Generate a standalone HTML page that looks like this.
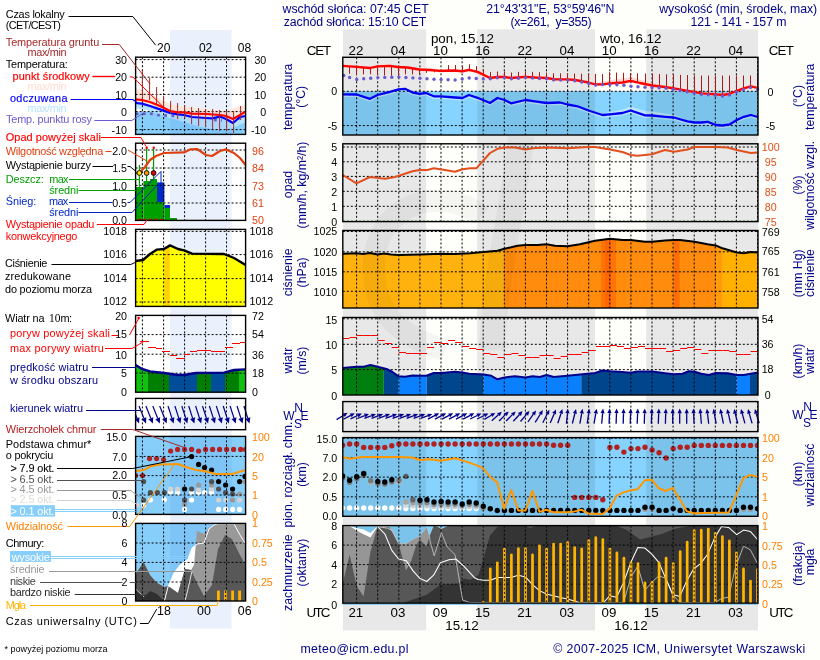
<!DOCTYPE html>
<html><head><meta charset="utf-8"><title>Meteogram</title><style>html,body{margin:0;padding:0;background:#fff}svg{display:block}</style></head><body>
<svg width="820" height="660" viewBox="0 0 820 660" font-family="'Liberation Sans', Arial, sans-serif">
<rect width="820" height="660" fill="#fff"/>
<rect x="280" y="0" width="540" height="660" fill="#fefefb"/>
<rect x="170.0" y="30.0" width="61.6" height="598.6" fill="#eaf1fc" />
<rect x="343.0" y="29.3" width="83.2" height="601.1" fill="#e8e8e8" />
<rect x="477.2" y="29.3" width="117.8" height="601.1" fill="#e8e8e8" />
<rect x="646.2" y="29.3" width="111.8" height="601.1" fill="#e8e8e8" />
<rect x="342.8" y="91.3" width="415.2" height="43.7" fill="#87d3ff" />
<polygon points="342.8,93.5 356.5,93.7 370.0,98.0 377.5,94.2 390.0,91.0 398.5,88.5 405.0,88.0 412.5,91.7 419.5,93.0 426.0,92.2 433.8,95.5 441.0,95.5 455.0,96.7 462.5,97.2 469.0,94.2 477.5,97.0 490.0,102.2 497.5,97.2 504.5,99.2 511.0,102.5 525.5,99.2 535.0,100.5 546.5,102.2 560.0,101.7 567.5,103.7 577.5,105.5 588.5,109.7 602.5,113.5 610.0,112.0 622.5,109.6 630.7,106.6 645.0,111.1 652.0,111.5 665.0,113.5 674.0,115.0 687.5,120.2 694.5,121.7 701.3,121.7 707.5,121.0 715.8,124.2 722.5,124.7 730.0,123.5 736.8,119.2 743.8,116.0 750.8,114.2 758.0,116.2 758.0,119.6 750.8,117.6 743.8,119.4 736.8,122.6 730.0,126.9 722.5,128.1 715.8,127.6 707.5,124.4 701.3,125.1 694.5,125.1 687.5,123.9 674.0,120.1 665.0,119.4 652.0,118.1 645.0,117.9 630.7,113.1 622.5,115.6 610.0,116.9 602.5,117.6 588.5,113.1 577.5,108.9 567.5,107.1 560.0,105.1 546.5,105.6 535.0,103.9 525.5,102.6 511.0,105.9 504.5,102.6 497.5,100.6 490.0,105.6 477.5,100.4 469.0,97.6 462.5,100.6 455.0,100.1 441.0,98.9 433.8,98.9 426.0,95.6 419.5,96.4 412.5,95.1 405.0,91.4 398.5,91.9 390.0,94.4 377.5,97.6 370.0,101.4 356.5,97.1 342.8,96.9" fill="#b9e6ff" />
<polygon points="342.8,64.2 356.5,65.2 370.0,66.4 377.5,64.7 390.0,64.2 397.5,65.4 407.5,65.9 419.5,67.9 430.0,68.4 440.0,69.2 455.0,68.9 462.5,69.7 469.0,68.2 477.5,70.3 490.0,76.4 497.5,75.4 504.5,75.4 511.0,76.4 525.5,75.2 535.0,75.9 546.5,76.4 555.0,77.7 567.5,77.7 575.0,78.4 588.5,80.9 595.0,82.7 602.5,81.9 610.0,80.2 622.5,78.6 630.7,76.8 640.0,79.4 652.0,83.0 665.0,85.4 674.0,86.7 687.5,89.2 694.5,90.4 701.3,91.7 715.8,92.7 722.5,93.4 730.0,92.2 736.8,89.2 743.8,86.7 750.8,84.7 758.0,86.4 758.0,89.6 750.8,87.9 743.8,89.9 736.8,92.4 730.0,95.4 722.5,96.6 715.8,95.9 701.3,94.9 694.5,93.6 687.5,92.4 674.0,89.9 665.0,88.6 652.0,87.1 640.0,84.6 630.7,82.4 622.5,84.1 610.0,84.9 602.5,85.9 595.0,85.9 588.5,84.1 575.0,81.6 567.5,80.9 555.0,80.9 546.5,79.6 535.0,79.1 525.5,78.4 511.0,79.6 504.5,78.6 497.5,78.6 490.0,79.6 477.5,73.5 469.0,71.4 462.5,72.9 455.0,72.1 440.0,72.4 430.0,71.6 419.5,71.1 407.5,69.1 397.5,68.6 390.0,67.4 377.5,67.9 370.0,69.6 356.5,68.4 342.8,67.4" fill="#ffd9d3" />
<rect x="343.0" y="91.3" width="83.2" height="43.7" fill="#000" opacity="0.075"/>
<rect x="477.2" y="91.3" width="117.8" height="43.7" fill="#000" opacity="0.075"/>
<rect x="646.2" y="91.3" width="111.8" height="43.7" fill="#000" opacity="0.075"/>
<line x1="356.6" y1="57.3" x2="356.6" y2="135.0" stroke="#000" stroke-width="1" stroke-dasharray="2,2"/>
<line x1="377.7" y1="57.3" x2="377.7" y2="135.0" stroke="#000" stroke-width="1" stroke-dasharray="2,2"/>
<line x1="398.8" y1="57.3" x2="398.8" y2="135.0" stroke="#000" stroke-width="1" stroke-dasharray="2,2"/>
<line x1="419.9" y1="57.3" x2="419.9" y2="135.0" stroke="#000" stroke-width="1" stroke-dasharray="2,2"/>
<line x1="441.0" y1="57.3" x2="441.0" y2="135.0" stroke="#000" stroke-width="1" stroke-dasharray="2,2"/>
<line x1="462.1" y1="57.3" x2="462.1" y2="135.0" stroke="#000" stroke-width="1" stroke-dasharray="2,2"/>
<line x1="483.2" y1="57.3" x2="483.2" y2="135.0" stroke="#000" stroke-width="1" stroke-dasharray="2,2"/>
<line x1="504.3" y1="57.3" x2="504.3" y2="135.0" stroke="#000" stroke-width="1" stroke-dasharray="2,2"/>
<line x1="525.4" y1="57.3" x2="525.4" y2="135.0" stroke="#000" stroke-width="1" stroke-dasharray="2,2"/>
<line x1="546.5" y1="57.3" x2="546.5" y2="135.0" stroke="#000" stroke-width="1" stroke-dasharray="2,2"/>
<line x1="567.6" y1="57.3" x2="567.6" y2="135.0" stroke="#000" stroke-width="1" stroke-dasharray="2,2"/>
<line x1="588.7" y1="57.3" x2="588.7" y2="135.0" stroke="#000" stroke-width="1" stroke-dasharray="2,2"/>
<line x1="609.8" y1="57.3" x2="609.8" y2="135.0" stroke="#000" stroke-width="1" stroke-dasharray="2,2"/>
<line x1="630.9" y1="57.3" x2="630.9" y2="135.0" stroke="#000" stroke-width="1" stroke-dasharray="2,2"/>
<line x1="652.0" y1="57.3" x2="652.0" y2="135.0" stroke="#000" stroke-width="1" stroke-dasharray="2,2"/>
<line x1="673.1" y1="57.3" x2="673.1" y2="135.0" stroke="#000" stroke-width="1" stroke-dasharray="2,2"/>
<line x1="694.2" y1="57.3" x2="694.2" y2="135.0" stroke="#000" stroke-width="1" stroke-dasharray="2,2"/>
<line x1="715.3" y1="57.3" x2="715.3" y2="135.0" stroke="#000" stroke-width="1" stroke-dasharray="2,2"/>
<line x1="736.4" y1="57.3" x2="736.4" y2="135.0" stroke="#000" stroke-width="1" stroke-dasharray="2,2"/>
<line x1="757.5" y1="57.3" x2="757.5" y2="135.0" stroke="#000" stroke-width="1" stroke-dasharray="2,2"/>
<line x1="342.8" y1="91.3" x2="758.0" y2="91.3" stroke="#000" stroke-width="1" stroke-dasharray="2,2"/>
<line x1="342.8" y1="125.6" x2="758.0" y2="125.6" stroke="#000" stroke-width="1" stroke-dasharray="2,2"/>
<line x1="349.5" y1="66.3" x2="349.5" y2="73.8" stroke="#b01818" stroke-width="1"/>
<line x1="356.5" y1="66.8" x2="356.5" y2="74.8" stroke="#b01818" stroke-width="1"/>
<line x1="363.5" y1="67.4" x2="363.5" y2="74.4" stroke="#b01818" stroke-width="1"/>
<line x1="370.5" y1="67.8" x2="370.5" y2="74.3" stroke="#b01818" stroke-width="1"/>
<line x1="377.5" y1="66.3" x2="377.5" y2="75.3" stroke="#b01818" stroke-width="1"/>
<line x1="384.5" y1="66.0" x2="384.5" y2="75.5" stroke="#b01818" stroke-width="1"/>
<line x1="391.5" y1="66.1" x2="391.5" y2="76.1" stroke="#b01818" stroke-width="1"/>
<line x1="398.5" y1="67.1" x2="398.5" y2="76.1" stroke="#b01818" stroke-width="1"/>
<line x1="405.5" y1="67.4" x2="405.5" y2="74.4" stroke="#b01818" stroke-width="1"/>
<line x1="412.5" y1="68.4" x2="412.5" y2="74.4" stroke="#b01818" stroke-width="1"/>
<line x1="419.5" y1="69.5" x2="419.5" y2="74.0" stroke="#b01818" stroke-width="1"/>
<line x1="426.5" y1="69.9" x2="426.5" y2="72.9" stroke="#b01818" stroke-width="1"/>
<line x1="434.5" y1="70.3" x2="434.5" y2="72.3" stroke="#b01818" stroke-width="1"/>
<line x1="448.5" y1="65.1" x2="448.5" y2="70.6" stroke="#b01818" stroke-width="1"/>
<line x1="455.5" y1="65.0" x2="455.5" y2="70.5" stroke="#b01818" stroke-width="1"/>
<line x1="462.5" y1="65.8" x2="462.5" y2="71.3" stroke="#b01818" stroke-width="1"/>
<line x1="469.5" y1="64.3" x2="469.5" y2="69.8" stroke="#b01818" stroke-width="1"/>
<line x1="476.5" y1="66.1" x2="476.5" y2="71.6" stroke="#b01818" stroke-width="1"/>
<line x1="483.5" y1="69.2" x2="483.5" y2="74.7" stroke="#b01818" stroke-width="1"/>
<line x1="490.5" y1="72.1" x2="490.5" y2="78.0" stroke="#b01818" stroke-width="1"/>
<line x1="497.5" y1="71.5" x2="497.5" y2="77.0" stroke="#b01818" stroke-width="1"/>
<line x1="504.5" y1="71.5" x2="504.5" y2="77.0" stroke="#b01818" stroke-width="1"/>
<line x1="511.5" y1="72.5" x2="511.5" y2="78.0" stroke="#b01818" stroke-width="1"/>
<line x1="518.5" y1="71.9" x2="518.5" y2="77.4" stroke="#b01818" stroke-width="1"/>
<line x1="525.5" y1="71.3" x2="525.5" y2="76.8" stroke="#b01818" stroke-width="1"/>
<line x1="532.5" y1="71.8" x2="532.5" y2="77.3" stroke="#b01818" stroke-width="1"/>
<line x1="539.5" y1="72.2" x2="539.5" y2="77.7" stroke="#b01818" stroke-width="1"/>
<line x1="546.5" y1="72.5" x2="546.5" y2="78.0" stroke="#b01818" stroke-width="1"/>
<line x1="553.5" y1="73.2" x2="553.5" y2="79.1" stroke="#b01818" stroke-width="1"/>
<line x1="560.5" y1="73.3" x2="560.5" y2="79.3" stroke="#b01818" stroke-width="1"/>
<line x1="567.5" y1="73.4" x2="567.5" y2="79.3" stroke="#b01818" stroke-width="1"/>
<line x1="574.5" y1="73.6" x2="574.5" y2="80.0" stroke="#b01818" stroke-width="1"/>
<line x1="581.5" y1="73.7" x2="581.5" y2="81.2" stroke="#b01818" stroke-width="1"/>
<line x1="588.5" y1="73.8" x2="588.5" y2="82.6" stroke="#b01818" stroke-width="1"/>
<line x1="595.5" y1="73.9" x2="595.5" y2="84.3" stroke="#b01818" stroke-width="1"/>
<line x1="602.5" y1="74.0" x2="602.5" y2="84.3" stroke="#b01818" stroke-width="1"/>
<line x1="609.5" y1="72.3" x2="609.5" y2="83.3" stroke="#b01818" stroke-width="1"/>
<line x1="616.5" y1="72.5" x2="616.5" y2="82.9" stroke="#b01818" stroke-width="1"/>
<line x1="623.5" y1="72.8" x2="623.5" y2="82.2" stroke="#b01818" stroke-width="1"/>
<line x1="630.5" y1="73.0" x2="630.5" y2="80.9" stroke="#b01818" stroke-width="1"/>
<line x1="637.5" y1="73.3" x2="637.5" y2="82.5" stroke="#b01818" stroke-width="1"/>
<line x1="645.5" y1="73.5" x2="645.5" y2="84.0" stroke="#b01818" stroke-width="1"/>
<line x1="652.5" y1="73.8" x2="652.5" y2="85.5" stroke="#b01818" stroke-width="1"/>
<line x1="659.5" y1="74.0" x2="659.5" y2="86.3" stroke="#b01818" stroke-width="1"/>
<line x1="666.5" y1="74.3" x2="666.5" y2="87.2" stroke="#b01818" stroke-width="1"/>
<line x1="673.5" y1="74.5" x2="673.5" y2="88.2" stroke="#b01818" stroke-width="1"/>
<line x1="680.5" y1="74.8" x2="680.5" y2="89.4" stroke="#b01818" stroke-width="1"/>
<line x1="687.5" y1="75.0" x2="687.5" y2="90.7" stroke="#b01818" stroke-width="1"/>
<line x1="694.5" y1="75.5" x2="694.5" y2="92.0" stroke="#b01818" stroke-width="1"/>
<line x1="701.5" y1="75.5" x2="701.5" y2="93.3" stroke="#b01818" stroke-width="1"/>
<line x1="708.5" y1="75.5" x2="708.5" y2="93.8" stroke="#b01818" stroke-width="1"/>
<line x1="715.5" y1="75.5" x2="715.5" y2="94.3" stroke="#b01818" stroke-width="1"/>
<line x1="722.5" y1="75.5" x2="722.5" y2="95.0" stroke="#b01818" stroke-width="1"/>
<line x1="729.5" y1="75.5" x2="729.5" y2="93.9" stroke="#b01818" stroke-width="1"/>
<line x1="736.5" y1="75.5" x2="736.5" y2="91.0" stroke="#b01818" stroke-width="1"/>
<line x1="743.5" y1="75.5" x2="743.5" y2="88.4" stroke="#b01818" stroke-width="1"/>
<line x1="750.5" y1="75.5" x2="750.5" y2="86.4" stroke="#b01818" stroke-width="1"/>
<line x1="757.5" y1="75.5" x2="757.5" y2="87.9" stroke="#b01818" stroke-width="1"/>
<polyline points="342.8,94.3 356.5,94.5 370.0,98.8 377.5,95.0 390.0,91.8 398.5,89.3 405.0,88.8 412.5,92.5 419.5,93.8 426.0,93.0 433.8,96.3 441.0,96.3 455.0,97.5 462.5,98.0 469.0,95.0 477.5,97.8 490.0,103.0 497.5,98.0 504.5,100.0 511.0,103.3 525.5,100.0 535.0,101.3 546.5,103.0 560.0,102.5 567.5,104.5 577.5,106.3 588.5,110.5 602.5,115.0 610.0,114.3 622.5,113.0 630.7,110.5 645.0,115.3 652.0,115.5 665.0,116.8 674.0,117.5 687.5,121.3 694.5,122.5 701.3,122.5 707.5,121.8 715.8,125.0 722.5,125.5 730.0,124.3 736.8,120.0 743.8,116.8 750.8,115.0 758.0,117.0" fill="none" stroke="#0000f0" stroke-width="2.3" stroke-linejoin="round"/>
<polyline points="342.8,65.8 356.5,66.8 370.0,68.0 377.5,66.3 390.0,65.8 397.5,67.0 407.5,67.5 419.5,69.5 430.0,70.0 440.0,70.8 455.0,70.5 462.5,71.3 469.0,69.8 477.5,71.9 490.0,78.0 497.5,77.0 504.5,77.0 511.0,78.0 525.5,76.8 535.0,77.5 546.5,78.0 555.0,79.3 567.5,79.3 575.0,80.0 588.5,82.5 595.0,84.3 602.5,84.3 610.0,83.3 622.5,82.5 630.7,80.8 640.0,83.0 652.0,85.5 665.0,87.0 674.0,88.3 687.5,90.8 694.5,92.0 701.3,93.3 715.8,94.3 722.5,95.0 730.0,93.8 736.8,90.8 743.8,88.3 750.8,86.3 758.0,88.0" fill="none" stroke="#ff0000" stroke-width="2.3" stroke-linejoin="round"/>
<circle cx="343.8" cy="75.5" r="1.7" fill="#6a5acd"/>
<circle cx="349.6" cy="77.5" r="1.7" fill="#6a5acd"/>
<circle cx="356.7" cy="79.5" r="1.7" fill="#6a5acd"/>
<circle cx="363.7" cy="78.8" r="1.7" fill="#6a5acd"/>
<circle cx="370.7" cy="78.2" r="1.7" fill="#6a5acd"/>
<circle cx="377.8" cy="77.6" r="1.7" fill="#6a5acd"/>
<circle cx="384.8" cy="77.4" r="1.7" fill="#6a5acd"/>
<circle cx="391.8" cy="77.2" r="1.7" fill="#6a5acd"/>
<circle cx="398.9" cy="77.1" r="1.7" fill="#6a5acd"/>
<circle cx="405.9" cy="77.5" r="1.7" fill="#6a5acd"/>
<circle cx="412.9" cy="77.9" r="1.7" fill="#6a5acd"/>
<circle cx="420.0" cy="78.3" r="1.7" fill="#6a5acd"/>
<circle cx="427.0" cy="78.8" r="1.7" fill="#6a5acd"/>
<circle cx="434.0" cy="79.2" r="1.7" fill="#6a5acd"/>
<circle cx="441.1" cy="79.6" r="1.7" fill="#6a5acd"/>
<circle cx="448.1" cy="79.8" r="1.7" fill="#6a5acd"/>
<circle cx="455.1" cy="80.0" r="1.7" fill="#6a5acd"/>
<circle cx="462.2" cy="79.0" r="1.7" fill="#6a5acd"/>
<circle cx="469.2" cy="78.0" r="1.7" fill="#6a5acd"/>
<circle cx="476.2" cy="78.5" r="1.7" fill="#6a5acd"/>
<circle cx="483.3" cy="78.9" r="1.7" fill="#6a5acd"/>
<circle cx="490.3" cy="78.8" r="1.7" fill="#6a5acd"/>
<circle cx="497.3" cy="77.8" r="1.7" fill="#6a5acd"/>
<circle cx="504.4" cy="77.8" r="1.7" fill="#6a5acd"/>
<circle cx="511.4" cy="78.8" r="1.7" fill="#6a5acd"/>
<circle cx="518.4" cy="78.2" r="1.7" fill="#6a5acd"/>
<circle cx="525.5" cy="77.6" r="1.7" fill="#6a5acd"/>
<circle cx="532.5" cy="78.1" r="1.7" fill="#6a5acd"/>
<circle cx="539.5" cy="78.5" r="1.7" fill="#6a5acd"/>
<circle cx="546.6" cy="78.8" r="1.7" fill="#6a5acd"/>
<circle cx="553.6" cy="79.9" r="1.7" fill="#6a5acd"/>
<circle cx="560.6" cy="80.1" r="1.7" fill="#6a5acd"/>
<circle cx="567.7" cy="80.1" r="1.7" fill="#6a5acd"/>
<circle cx="574.7" cy="80.8" r="1.7" fill="#6a5acd"/>
<circle cx="581.7" cy="82.0" r="1.7" fill="#6a5acd"/>
<circle cx="588.8" cy="83.4" r="1.7" fill="#6a5acd"/>
<circle cx="595.8" cy="85.1" r="1.7" fill="#6a5acd"/>
<circle cx="602.8" cy="84.6" r="1.7" fill="#6a5acd"/>
<circle cx="609.9" cy="84.6" r="1.7" fill="#6a5acd"/>
<circle cx="616.9" cy="84.8" r="1.7" fill="#6a5acd"/>
<circle cx="623.9" cy="85.3" r="1.7" fill="#6a5acd"/>
<circle cx="631.0" cy="86.3" r="1.7" fill="#6a5acd"/>
<circle cx="638.0" cy="86.8" r="1.7" fill="#6a5acd"/>
<circle cx="645.0" cy="87.3" r="1.7" fill="#6a5acd"/>
<circle cx="652.1" cy="87.6" r="1.7" fill="#6a5acd"/>
<circle cx="659.1" cy="87.8" r="1.7" fill="#6a5acd"/>
<circle cx="666.1" cy="88.2" r="1.7" fill="#6a5acd"/>
<circle cx="673.2" cy="89.2" r="1.7" fill="#6a5acd"/>
<circle cx="680.2" cy="90.4" r="1.7" fill="#6a5acd"/>
<circle cx="687.2" cy="91.7" r="1.7" fill="#6a5acd"/>
<circle cx="694.2" cy="93.0" r="1.7" fill="#6a5acd"/>
<circle cx="701.3" cy="94.3" r="1.7" fill="#6a5acd"/>
<circle cx="708.3" cy="94.8" r="1.7" fill="#6a5acd"/>
<circle cx="715.3" cy="95.3" r="1.7" fill="#6a5acd"/>
<circle cx="722.4" cy="96.0" r="1.7" fill="#6a5acd"/>
<circle cx="729.4" cy="94.9" r="1.7" fill="#6a5acd"/>
<circle cx="736.4" cy="92.0" r="1.7" fill="#6a5acd"/>
<circle cx="743.5" cy="89.4" r="1.7" fill="#6a5acd"/>
<circle cx="750.5" cy="87.4" r="1.7" fill="#6a5acd"/>
<circle cx="757.5" cy="88.9" r="1.7" fill="#6a5acd"/>
<rect x="342.8" y="57.3" width="415.2" height="77.7" fill="none" stroke="#000" stroke-width="1.4"/>
<line x1="356.6" y1="143.8" x2="356.6" y2="221.6" stroke="#000" stroke-width="1" stroke-dasharray="2,2"/>
<line x1="377.7" y1="143.8" x2="377.7" y2="221.6" stroke="#000" stroke-width="1" stroke-dasharray="2,2"/>
<line x1="398.8" y1="143.8" x2="398.8" y2="221.6" stroke="#000" stroke-width="1" stroke-dasharray="2,2"/>
<line x1="419.9" y1="143.8" x2="419.9" y2="221.6" stroke="#000" stroke-width="1" stroke-dasharray="2,2"/>
<line x1="441.0" y1="143.8" x2="441.0" y2="221.6" stroke="#000" stroke-width="1" stroke-dasharray="2,2"/>
<line x1="462.1" y1="143.8" x2="462.1" y2="221.6" stroke="#000" stroke-width="1" stroke-dasharray="2,2"/>
<line x1="483.2" y1="143.8" x2="483.2" y2="221.6" stroke="#000" stroke-width="1" stroke-dasharray="2,2"/>
<line x1="504.3" y1="143.8" x2="504.3" y2="221.6" stroke="#000" stroke-width="1" stroke-dasharray="2,2"/>
<line x1="525.4" y1="143.8" x2="525.4" y2="221.6" stroke="#000" stroke-width="1" stroke-dasharray="2,2"/>
<line x1="546.5" y1="143.8" x2="546.5" y2="221.6" stroke="#000" stroke-width="1" stroke-dasharray="2,2"/>
<line x1="567.6" y1="143.8" x2="567.6" y2="221.6" stroke="#000" stroke-width="1" stroke-dasharray="2,2"/>
<line x1="588.7" y1="143.8" x2="588.7" y2="221.6" stroke="#000" stroke-width="1" stroke-dasharray="2,2"/>
<line x1="609.8" y1="143.8" x2="609.8" y2="221.6" stroke="#000" stroke-width="1" stroke-dasharray="2,2"/>
<line x1="630.9" y1="143.8" x2="630.9" y2="221.6" stroke="#000" stroke-width="1" stroke-dasharray="2,2"/>
<line x1="652.0" y1="143.8" x2="652.0" y2="221.6" stroke="#000" stroke-width="1" stroke-dasharray="2,2"/>
<line x1="673.1" y1="143.8" x2="673.1" y2="221.6" stroke="#000" stroke-width="1" stroke-dasharray="2,2"/>
<line x1="694.2" y1="143.8" x2="694.2" y2="221.6" stroke="#000" stroke-width="1" stroke-dasharray="2,2"/>
<line x1="715.3" y1="143.8" x2="715.3" y2="221.6" stroke="#000" stroke-width="1" stroke-dasharray="2,2"/>
<line x1="736.4" y1="143.8" x2="736.4" y2="221.6" stroke="#000" stroke-width="1" stroke-dasharray="2,2"/>
<line x1="757.5" y1="143.8" x2="757.5" y2="221.6" stroke="#000" stroke-width="1" stroke-dasharray="2,2"/>
<line x1="342.8" y1="147.0" x2="758.0" y2="147.0" stroke="#000" stroke-width="1" stroke-dasharray="2,2"/>
<line x1="342.8" y1="161.8" x2="758.0" y2="161.8" stroke="#000" stroke-width="1" stroke-dasharray="2,2"/>
<line x1="342.8" y1="176.4" x2="758.0" y2="176.4" stroke="#000" stroke-width="1" stroke-dasharray="2,2"/>
<line x1="342.8" y1="191.3" x2="758.0" y2="191.3" stroke="#000" stroke-width="1" stroke-dasharray="2,2"/>
<line x1="342.8" y1="206.3" x2="758.0" y2="206.3" stroke="#000" stroke-width="1" stroke-dasharray="2,2"/>
<line x1="342.8" y1="221.1" x2="758.0" y2="221.1" stroke="#0a8a0a" stroke-width="1" stroke-dasharray="2,2"/>
<polyline points="342.8,175.0 356.5,183.3 370.0,177.0 385.0,178.8 395.0,177.0 412.5,171.3 419.5,170.0 427.5,170.0 433.8,168.3 445.0,170.0 455.0,171.8 462.5,169.3 470.0,168.3 476.3,168.3 483.8,160.0 490.0,153.0 497.5,148.8 504.5,147.5 515.0,147.5 525.5,149.5 532.5,148.3 546.5,147.5 567.5,148.3 588.5,147.0 595.0,147.0 610.0,149.5 622.5,152.0 630.7,155.0 637.5,155.8 652.0,154.3 665.0,150.0 674.0,151.8 687.5,149.5 694.5,147.0 715.8,147.0 727.5,147.5 736.8,150.0 750.8,153.0 758.0,152.5" fill="none" stroke="#e2501e" stroke-width="2" stroke-linejoin="round"/>
<rect x="342.8" y="143.8" width="415.2" height="77.8" fill="none" stroke="#000" stroke-width="1.4"/>
<defs><linearGradient id="go" x1="0" x2="1" y1="0" y2="0"><stop offset="0" stop-color="#ffab10"/><stop offset="1" stop-color="#ffb80c"/></linearGradient></defs>
<polygon points="342.8,253.8 356.5,253.2 363.0,254.0 370.0,253.0 377.5,254.6 384.0,253.4 391.0,254.6 398.5,255.0 420.0,254.4 441.0,253.8 455.0,254.0 470.0,253.3 497.5,250.8 503.8,249.0 503.8,308.0 342.8,308.0" fill="#ffb20e" />
<polygon points="503.8,249.0 504.5,248.8 517.5,245.8 525.5,245.0 537.5,245.0 546.5,244.3 555.0,245.8 567.5,246.3 580.0,244.3 595.0,240.8 610.0,238.8 622.5,240.0 630.7,240.0 645.0,241.8 652.0,241.8 665.0,240.5 674.0,240.0 680.0,240.0 694.5,241.8 707.5,244.3 715.8,245.5 722.0,248.1 722.0,308.0 503.8,308.0" fill="#ff8c0c" />
<polygon points="722.0,248.1 722.5,248.3 736.8,252.5 743.8,253.3 750.8,252.0 758.0,252.5 758.0,308.0 722.0,308.0" fill="#ffb000" />
<polygon points="601.0,240.0 610.0,238.8 616.0,239.4 616.0,308.0 601.0,308.0" fill="#ff7406" />
<polygon points="605.0,239.5 610.0,238.8 611.0,238.9 611.0,308.0 605.0,308.0" fill="#ff6602" />
<polygon points="673.8,240.0 674.0,240.0 679.6,240.0 679.6,308.0 673.8,308.0" fill="#ff6e04" />
<polygon points="716.0,245.6 722.0,248.1 722.0,308.0 716.0,308.0" fill="#ff9a0a" />
<line x1="356.6" y1="230.5" x2="356.6" y2="308.0" stroke="#000" stroke-width="1" stroke-dasharray="2,2"/>
<line x1="377.7" y1="230.5" x2="377.7" y2="308.0" stroke="#000" stroke-width="1" stroke-dasharray="2,2"/>
<line x1="398.8" y1="230.5" x2="398.8" y2="308.0" stroke="#000" stroke-width="1" stroke-dasharray="2,2"/>
<line x1="419.9" y1="230.5" x2="419.9" y2="308.0" stroke="#000" stroke-width="1" stroke-dasharray="2,2"/>
<line x1="441.0" y1="230.5" x2="441.0" y2="308.0" stroke="#000" stroke-width="1" stroke-dasharray="2,2"/>
<line x1="462.1" y1="230.5" x2="462.1" y2="308.0" stroke="#000" stroke-width="1" stroke-dasharray="2,2"/>
<line x1="483.2" y1="230.5" x2="483.2" y2="308.0" stroke="#000" stroke-width="1" stroke-dasharray="2,2"/>
<line x1="504.3" y1="230.5" x2="504.3" y2="308.0" stroke="#000" stroke-width="1" stroke-dasharray="2,2"/>
<line x1="525.4" y1="230.5" x2="525.4" y2="308.0" stroke="#000" stroke-width="1" stroke-dasharray="2,2"/>
<line x1="546.5" y1="230.5" x2="546.5" y2="308.0" stroke="#000" stroke-width="1" stroke-dasharray="2,2"/>
<line x1="567.6" y1="230.5" x2="567.6" y2="308.0" stroke="#000" stroke-width="1" stroke-dasharray="2,2"/>
<line x1="588.7" y1="230.5" x2="588.7" y2="308.0" stroke="#000" stroke-width="1" stroke-dasharray="2,2"/>
<line x1="609.8" y1="230.5" x2="609.8" y2="308.0" stroke="#000" stroke-width="1" stroke-dasharray="2,2"/>
<line x1="630.9" y1="230.5" x2="630.9" y2="308.0" stroke="#000" stroke-width="1" stroke-dasharray="2,2"/>
<line x1="652.0" y1="230.5" x2="652.0" y2="308.0" stroke="#000" stroke-width="1" stroke-dasharray="2,2"/>
<line x1="673.1" y1="230.5" x2="673.1" y2="308.0" stroke="#000" stroke-width="1" stroke-dasharray="2,2"/>
<line x1="694.2" y1="230.5" x2="694.2" y2="308.0" stroke="#000" stroke-width="1" stroke-dasharray="2,2"/>
<line x1="715.3" y1="230.5" x2="715.3" y2="308.0" stroke="#000" stroke-width="1" stroke-dasharray="2,2"/>
<line x1="736.4" y1="230.5" x2="736.4" y2="308.0" stroke="#000" stroke-width="1" stroke-dasharray="2,2"/>
<line x1="757.5" y1="230.5" x2="757.5" y2="308.0" stroke="#000" stroke-width="1" stroke-dasharray="2,2"/>
<line x1="342.8" y1="231.5" x2="758.0" y2="231.5" stroke="#000" stroke-width="1" stroke-dasharray="2,2"/>
<line x1="342.8" y1="251.8" x2="758.0" y2="251.8" stroke="#000" stroke-width="1" stroke-dasharray="2,2"/>
<line x1="342.8" y1="271.8" x2="758.0" y2="271.8" stroke="#000" stroke-width="1" stroke-dasharray="2,2"/>
<line x1="342.8" y1="291.3" x2="758.0" y2="291.3" stroke="#000" stroke-width="1" stroke-dasharray="2,2"/>
<polyline points="342.8,253.8 356.5,253.2 363.0,254.0 370.0,253.0 377.5,254.6 384.0,253.4 391.0,254.6 398.5,255.0 420.0,254.4 441.0,253.8 455.0,254.0 470.0,253.3 497.5,250.8 504.5,248.8 517.5,245.8 525.5,245.0 537.5,245.0 546.5,244.3 555.0,245.8 567.5,246.3 580.0,244.3 595.0,240.8 610.0,238.8 622.5,240.0 630.7,240.0 645.0,241.8 652.0,241.8 665.0,240.5 674.0,240.0 680.0,240.0 694.5,241.8 707.5,244.3 715.8,245.5 722.5,248.3 736.8,252.5 743.8,253.3 750.8,252.0 758.0,252.5" fill="none" stroke="#000" stroke-width="2" stroke-linejoin="round"/>
<rect x="342.8" y="230.5" width="415.2" height="77.5" fill="none" stroke="#000" stroke-width="1.4"/>
<polygon points="342.8,368.0 356.5,366.8 363.8,366.8 370.5,365.0 377.5,366.8 383.8,368.4 383.8,395.0 342.8,395.0" fill="#007f10" />
<polygon points="383.8,368.4 387.5,369.3 392.5,372.0 398.5,376.3 398.5,395.0 383.8,395.0" fill="#00468c" />
<polygon points="398.5,376.3 405.0,376.8 412.5,375.5 419.5,375.8 426.3,375.8 426.8,375.6 426.8,395.0 398.5,395.0" fill="#0a80ff" />
<polygon points="426.8,375.6 433.8,373.0 441.0,373.0 455.0,371.8 462.5,372.5 469.3,373.8 483.4,374.5 483.4,395.0 426.8,395.0" fill="#00468c" />
<polygon points="483.4,374.5 483.8,374.5 491.3,375.8 497.5,379.3 504.5,377.5 515.0,376.3 525.5,377.5 532.5,376.3 540.0,377.0 546.5,375.0 553.8,377.0 567.5,375.8 580.0,374.5 581.3,374.4 581.3,395.0 483.4,395.0" fill="#0a80ff" />
<polygon points="581.3,374.4 595.0,373.0 602.5,370.5 610.0,371.3 622.5,372.0 630.7,372.8 637.5,371.6 652.0,371.6 665.0,373.3 674.0,374.3 682.5,373.8 688.8,371.3 694.5,371.8 701.3,373.8 708.8,375.0 715.8,373.0 727.5,373.3 736.3,374.9 736.3,395.0 581.3,395.0" fill="#00468c" />
<polygon points="736.3,374.9 736.8,375.0 743.8,375.0 750.0,373.9 750.0,395.0 736.3,395.0" fill="#0a80ff" />
<polygon points="750.0,373.9 750.8,373.8 758.0,372.5 758.0,395.0 750.0,395.0" fill="#00468c" />
<line x1="356.6" y1="317.5" x2="356.6" y2="395.0" stroke="#000" stroke-width="1" stroke-dasharray="2,2"/>
<line x1="377.7" y1="317.5" x2="377.7" y2="395.0" stroke="#000" stroke-width="1" stroke-dasharray="2,2"/>
<line x1="398.8" y1="317.5" x2="398.8" y2="395.0" stroke="#000" stroke-width="1" stroke-dasharray="2,2"/>
<line x1="419.9" y1="317.5" x2="419.9" y2="395.0" stroke="#000" stroke-width="1" stroke-dasharray="2,2"/>
<line x1="441.0" y1="317.5" x2="441.0" y2="395.0" stroke="#000" stroke-width="1" stroke-dasharray="2,2"/>
<line x1="462.1" y1="317.5" x2="462.1" y2="395.0" stroke="#000" stroke-width="1" stroke-dasharray="2,2"/>
<line x1="483.2" y1="317.5" x2="483.2" y2="395.0" stroke="#000" stroke-width="1" stroke-dasharray="2,2"/>
<line x1="504.3" y1="317.5" x2="504.3" y2="395.0" stroke="#000" stroke-width="1" stroke-dasharray="2,2"/>
<line x1="525.4" y1="317.5" x2="525.4" y2="395.0" stroke="#000" stroke-width="1" stroke-dasharray="2,2"/>
<line x1="546.5" y1="317.5" x2="546.5" y2="395.0" stroke="#000" stroke-width="1" stroke-dasharray="2,2"/>
<line x1="567.6" y1="317.5" x2="567.6" y2="395.0" stroke="#000" stroke-width="1" stroke-dasharray="2,2"/>
<line x1="588.7" y1="317.5" x2="588.7" y2="395.0" stroke="#000" stroke-width="1" stroke-dasharray="2,2"/>
<line x1="609.8" y1="317.5" x2="609.8" y2="395.0" stroke="#000" stroke-width="1" stroke-dasharray="2,2"/>
<line x1="630.9" y1="317.5" x2="630.9" y2="395.0" stroke="#000" stroke-width="1" stroke-dasharray="2,2"/>
<line x1="652.0" y1="317.5" x2="652.0" y2="395.0" stroke="#000" stroke-width="1" stroke-dasharray="2,2"/>
<line x1="673.1" y1="317.5" x2="673.1" y2="395.0" stroke="#000" stroke-width="1" stroke-dasharray="2,2"/>
<line x1="694.2" y1="317.5" x2="694.2" y2="395.0" stroke="#000" stroke-width="1" stroke-dasharray="2,2"/>
<line x1="715.3" y1="317.5" x2="715.3" y2="395.0" stroke="#000" stroke-width="1" stroke-dasharray="2,2"/>
<line x1="736.4" y1="317.5" x2="736.4" y2="395.0" stroke="#000" stroke-width="1" stroke-dasharray="2,2"/>
<line x1="757.5" y1="317.5" x2="757.5" y2="395.0" stroke="#000" stroke-width="1" stroke-dasharray="2,2"/>
<line x1="342.8" y1="318.8" x2="758.0" y2="318.8" stroke="#000" stroke-width="1" stroke-dasharray="2,2"/>
<line x1="342.8" y1="344.3" x2="758.0" y2="344.3" stroke="#000" stroke-width="1" stroke-dasharray="2,2"/>
<line x1="342.8" y1="369.6" x2="758.0" y2="369.6" stroke="#000" stroke-width="1" stroke-dasharray="2,2"/>
<polyline points="342.8,368.0 356.5,366.8 363.8,366.8 370.5,365.0 377.5,366.8 387.5,369.3 392.5,372.0 398.5,376.3 405.0,376.8 412.5,375.5 419.5,375.8 426.3,375.8 433.8,373.0 441.0,373.0 455.0,371.8 462.5,372.5 469.3,373.8 483.8,374.5 491.3,375.8 497.5,379.3 504.5,377.5 515.0,376.3 525.5,377.5 532.5,376.3 540.0,377.0 546.5,375.0 553.8,377.0 567.5,375.8 580.0,374.5 595.0,373.0 602.5,370.5 610.0,371.3 622.5,372.0 630.7,372.8 637.5,371.6 652.0,371.6 665.0,373.3 674.0,374.3 682.5,373.8 688.8,371.3 694.5,371.8 701.3,373.8 708.8,375.0 715.8,373.0 727.5,373.3 736.8,375.0 743.8,375.0 750.8,373.8 758.0,372.5" fill="none" stroke="#00008b" stroke-width="2" stroke-linejoin="round"/>
<line x1="342.8" y1="338.5" x2="349.6" y2="338.5" stroke="#ff0000" stroke-width="1"/>
<line x1="349.6" y1="337.5" x2="356.7" y2="337.5" stroke="#ff0000" stroke-width="1"/>
<line x1="356.7" y1="335.5" x2="363.7" y2="335.5" stroke="#ff0000" stroke-width="1"/>
<line x1="363.7" y1="335.5" x2="370.7" y2="335.5" stroke="#ff0000" stroke-width="1"/>
<line x1="370.7" y1="335.5" x2="377.8" y2="335.5" stroke="#ff0000" stroke-width="1"/>
<line x1="377.8" y1="340.5" x2="384.8" y2="340.5" stroke="#ff0000" stroke-width="1"/>
<line x1="384.8" y1="343.5" x2="391.8" y2="343.5" stroke="#ff0000" stroke-width="1"/>
<line x1="391.8" y1="347.5" x2="398.9" y2="347.5" stroke="#ff0000" stroke-width="1"/>
<line x1="398.9" y1="352.5" x2="405.9" y2="352.5" stroke="#ff0000" stroke-width="1"/>
<line x1="405.9" y1="353.5" x2="412.9" y2="353.5" stroke="#ff0000" stroke-width="1"/>
<line x1="412.9" y1="353.5" x2="420.0" y2="353.5" stroke="#ff0000" stroke-width="1"/>
<line x1="420.0" y1="353.5" x2="427.0" y2="353.5" stroke="#ff0000" stroke-width="1"/>
<line x1="427.0" y1="347.5" x2="434.0" y2="347.5" stroke="#ff0000" stroke-width="1"/>
<line x1="434.0" y1="342.5" x2="441.1" y2="342.5" stroke="#ff0000" stroke-width="1"/>
<line x1="441.1" y1="343.5" x2="448.1" y2="343.5" stroke="#ff0000" stroke-width="1"/>
<line x1="448.1" y1="340.5" x2="455.1" y2="340.5" stroke="#ff0000" stroke-width="1"/>
<line x1="455.1" y1="342.5" x2="462.2" y2="342.5" stroke="#ff0000" stroke-width="1"/>
<line x1="462.2" y1="346.5" x2="469.2" y2="346.5" stroke="#ff0000" stroke-width="1"/>
<line x1="469.2" y1="348.5" x2="476.2" y2="348.5" stroke="#ff0000" stroke-width="1"/>
<line x1="476.2" y1="349.5" x2="483.3" y2="349.5" stroke="#ff0000" stroke-width="1"/>
<line x1="483.3" y1="353.5" x2="490.3" y2="353.5" stroke="#ff0000" stroke-width="1"/>
<line x1="490.3" y1="354.5" x2="497.3" y2="354.5" stroke="#ff0000" stroke-width="1"/>
<line x1="497.3" y1="357.5" x2="504.4" y2="357.5" stroke="#ff0000" stroke-width="1"/>
<line x1="504.4" y1="354.5" x2="511.4" y2="354.5" stroke="#ff0000" stroke-width="1"/>
<line x1="511.4" y1="353.5" x2="518.4" y2="353.5" stroke="#ff0000" stroke-width="1"/>
<line x1="518.4" y1="355.5" x2="525.5" y2="355.5" stroke="#ff0000" stroke-width="1"/>
<line x1="525.5" y1="357.5" x2="532.5" y2="357.5" stroke="#ff0000" stroke-width="1"/>
<line x1="532.5" y1="357.5" x2="539.5" y2="357.5" stroke="#ff0000" stroke-width="1"/>
<line x1="539.5" y1="355.5" x2="546.6" y2="355.5" stroke="#ff0000" stroke-width="1"/>
<line x1="546.6" y1="355.5" x2="553.6" y2="355.5" stroke="#ff0000" stroke-width="1"/>
<line x1="553.6" y1="358.5" x2="560.6" y2="358.5" stroke="#ff0000" stroke-width="1"/>
<line x1="560.6" y1="356.5" x2="567.7" y2="356.5" stroke="#ff0000" stroke-width="1"/>
<line x1="567.7" y1="354.5" x2="574.7" y2="354.5" stroke="#ff0000" stroke-width="1"/>
<line x1="574.7" y1="354.5" x2="581.7" y2="354.5" stroke="#ff0000" stroke-width="1"/>
<line x1="581.7" y1="352.5" x2="588.8" y2="352.5" stroke="#ff0000" stroke-width="1"/>
<line x1="588.8" y1="350.5" x2="595.8" y2="350.5" stroke="#ff0000" stroke-width="1"/>
<line x1="595.8" y1="346.5" x2="602.8" y2="346.5" stroke="#ff0000" stroke-width="1"/>
<line x1="602.8" y1="346.5" x2="609.9" y2="346.5" stroke="#ff0000" stroke-width="1"/>
<line x1="609.9" y1="345.5" x2="616.9" y2="345.5" stroke="#ff0000" stroke-width="1"/>
<line x1="616.9" y1="346.5" x2="623.9" y2="346.5" stroke="#ff0000" stroke-width="1"/>
<line x1="623.9" y1="348.5" x2="631.0" y2="348.5" stroke="#ff0000" stroke-width="1"/>
<line x1="631.0" y1="347.5" x2="638.0" y2="347.5" stroke="#ff0000" stroke-width="1"/>
<line x1="638.0" y1="346.5" x2="645.0" y2="346.5" stroke="#ff0000" stroke-width="1"/>
<line x1="645.0" y1="348.5" x2="652.0" y2="348.5" stroke="#ff0000" stroke-width="1"/>
<line x1="652.1" y1="348.5" x2="659.1" y2="348.5" stroke="#ff0000" stroke-width="1"/>
<line x1="659.1" y1="348.5" x2="666.1" y2="348.5" stroke="#ff0000" stroke-width="1"/>
<line x1="666.1" y1="351.5" x2="673.1" y2="351.5" stroke="#ff0000" stroke-width="1"/>
<line x1="673.2" y1="350.5" x2="680.2" y2="350.5" stroke="#ff0000" stroke-width="1"/>
<line x1="680.2" y1="348.5" x2="687.2" y2="348.5" stroke="#ff0000" stroke-width="1"/>
<line x1="687.2" y1="347.5" x2="694.2" y2="347.5" stroke="#ff0000" stroke-width="1"/>
<line x1="694.2" y1="349.5" x2="701.3" y2="349.5" stroke="#ff0000" stroke-width="1"/>
<line x1="701.3" y1="353.5" x2="708.3" y2="353.5" stroke="#ff0000" stroke-width="1"/>
<line x1="708.3" y1="350.5" x2="715.3" y2="350.5" stroke="#ff0000" stroke-width="1"/>
<line x1="715.3" y1="350.5" x2="722.4" y2="350.5" stroke="#ff0000" stroke-width="1"/>
<line x1="722.4" y1="350.5" x2="729.4" y2="350.5" stroke="#ff0000" stroke-width="1"/>
<line x1="729.4" y1="351.5" x2="736.4" y2="351.5" stroke="#ff0000" stroke-width="1"/>
<line x1="736.4" y1="354.5" x2="743.5" y2="354.5" stroke="#ff0000" stroke-width="1"/>
<line x1="743.5" y1="354.5" x2="750.5" y2="354.5" stroke="#ff0000" stroke-width="1"/>
<line x1="750.5" y1="351.5" x2="757.5" y2="351.5" stroke="#ff0000" stroke-width="1"/>
<line x1="757.5" y1="351.5" x2="758.0" y2="351.5" stroke="#ff0000" stroke-width="1"/>
<rect x="342.8" y="317.5" width="415.2" height="77.5" fill="none" stroke="#000" stroke-width="1.4"/>
<line x1="356.6" y1="401.6" x2="356.6" y2="431.6" stroke="#000" stroke-width="1" stroke-dasharray="2,2"/>
<line x1="377.7" y1="401.6" x2="377.7" y2="431.6" stroke="#000" stroke-width="1" stroke-dasharray="2,2"/>
<line x1="398.8" y1="401.6" x2="398.8" y2="431.6" stroke="#000" stroke-width="1" stroke-dasharray="2,2"/>
<line x1="419.9" y1="401.6" x2="419.9" y2="431.6" stroke="#000" stroke-width="1" stroke-dasharray="2,2"/>
<line x1="441.0" y1="401.6" x2="441.0" y2="431.6" stroke="#000" stroke-width="1" stroke-dasharray="2,2"/>
<line x1="462.1" y1="401.6" x2="462.1" y2="431.6" stroke="#000" stroke-width="1" stroke-dasharray="2,2"/>
<line x1="483.2" y1="401.6" x2="483.2" y2="431.6" stroke="#000" stroke-width="1" stroke-dasharray="2,2"/>
<line x1="504.3" y1="401.6" x2="504.3" y2="431.6" stroke="#000" stroke-width="1" stroke-dasharray="2,2"/>
<line x1="525.4" y1="401.6" x2="525.4" y2="431.6" stroke="#000" stroke-width="1" stroke-dasharray="2,2"/>
<line x1="546.5" y1="401.6" x2="546.5" y2="431.6" stroke="#000" stroke-width="1" stroke-dasharray="2,2"/>
<line x1="567.6" y1="401.6" x2="567.6" y2="431.6" stroke="#000" stroke-width="1" stroke-dasharray="2,2"/>
<line x1="588.7" y1="401.6" x2="588.7" y2="431.6" stroke="#000" stroke-width="1" stroke-dasharray="2,2"/>
<line x1="609.8" y1="401.6" x2="609.8" y2="431.6" stroke="#000" stroke-width="1" stroke-dasharray="2,2"/>
<line x1="630.9" y1="401.6" x2="630.9" y2="431.6" stroke="#000" stroke-width="1" stroke-dasharray="2,2"/>
<line x1="652.0" y1="401.6" x2="652.0" y2="431.6" stroke="#000" stroke-width="1" stroke-dasharray="2,2"/>
<line x1="673.1" y1="401.6" x2="673.1" y2="431.6" stroke="#000" stroke-width="1" stroke-dasharray="2,2"/>
<line x1="694.2" y1="401.6" x2="694.2" y2="431.6" stroke="#000" stroke-width="1" stroke-dasharray="2,2"/>
<line x1="715.3" y1="401.6" x2="715.3" y2="431.6" stroke="#000" stroke-width="1" stroke-dasharray="2,2"/>
<line x1="736.4" y1="401.6" x2="736.4" y2="431.6" stroke="#000" stroke-width="1" stroke-dasharray="2,2"/>
<line x1="757.5" y1="401.6" x2="757.5" y2="431.6" stroke="#000" stroke-width="1" stroke-dasharray="2,2"/>
<line x1="336.6" y1="419.6" x2="343.7" y2="415.2" stroke="#00008b" stroke-width="1.3"/>
<polygon points="347.6,412.8 344.8,417.0 342.6,413.4" fill="#00008b" />
<line x1="343.5" y1="419.2" x2="350.7" y2="415.4" stroke="#00008b" stroke-width="1.3"/>
<polygon points="354.7,413.2 351.7,417.2 349.7,413.5" fill="#00008b" />
<line x1="350.5" y1="418.9" x2="357.7" y2="415.5" stroke="#00008b" stroke-width="1.3"/>
<polygon points="361.9,413.5 358.6,417.4 356.8,413.6" fill="#00008b" />
<line x1="357.4" y1="418.5" x2="364.7" y2="415.6" stroke="#00008b" stroke-width="1.3"/>
<polygon points="369.0,413.9 365.5,417.5 363.9,413.6" fill="#00008b" />
<line x1="364.4" y1="418.3" x2="371.7" y2="415.7" stroke="#00008b" stroke-width="1.3"/>
<polygon points="376.0,414.1 372.4,417.6 371.0,413.7" fill="#00008b" />
<line x1="371.5" y1="418.3" x2="378.8" y2="415.7" stroke="#00008b" stroke-width="1.3"/>
<polygon points="383.1,414.1 379.5,417.6 378.0,413.7" fill="#00008b" />
<line x1="378.5" y1="418.3" x2="385.8" y2="415.7" stroke="#00008b" stroke-width="1.3"/>
<polygon points="390.1,414.1 386.5,417.6 385.1,413.7" fill="#00008b" />
<line x1="385.5" y1="418.3" x2="392.8" y2="415.7" stroke="#00008b" stroke-width="1.3"/>
<polygon points="397.1,414.1 393.5,417.6 392.1,413.7" fill="#00008b" />
<line x1="392.5" y1="418.3" x2="399.9" y2="415.7" stroke="#00008b" stroke-width="1.3"/>
<polygon points="404.2,414.1 400.6,417.6 399.1,413.7" fill="#00008b" />
<line x1="399.6" y1="418.3" x2="406.9" y2="415.7" stroke="#00008b" stroke-width="1.3"/>
<polygon points="411.2,414.1 407.6,417.6 406.2,413.7" fill="#00008b" />
<line x1="406.6" y1="418.3" x2="413.9" y2="415.7" stroke="#00008b" stroke-width="1.3"/>
<polygon points="418.2,414.1 414.6,417.6 413.2,413.7" fill="#00008b" />
<line x1="413.6" y1="418.3" x2="421.0" y2="415.7" stroke="#00008b" stroke-width="1.3"/>
<polygon points="425.3,414.1 421.7,417.6 420.2,413.7" fill="#00008b" />
<line x1="420.7" y1="418.3" x2="428.0" y2="415.7" stroke="#00008b" stroke-width="1.3"/>
<polygon points="432.3,414.1 428.7,417.6 427.3,413.7" fill="#00008b" />
<line x1="427.9" y1="419.1" x2="435.1" y2="415.4" stroke="#00008b" stroke-width="1.3"/>
<polygon points="439.2,413.3 436.0,417.3 434.1,413.5" fill="#00008b" />
<line x1="434.9" y1="419.1" x2="442.1" y2="415.4" stroke="#00008b" stroke-width="1.3"/>
<polygon points="446.2,413.3 443.1,417.3 441.1,413.5" fill="#00008b" />
<line x1="442.0" y1="419.1" x2="449.1" y2="415.4" stroke="#00008b" stroke-width="1.3"/>
<polygon points="453.2,413.3 450.1,417.3 448.2,413.5" fill="#00008b" />
<line x1="449.0" y1="419.1" x2="456.2" y2="415.4" stroke="#00008b" stroke-width="1.3"/>
<polygon points="460.3,413.3 457.1,417.3 455.2,413.5" fill="#00008b" />
<line x1="456.0" y1="419.1" x2="463.2" y2="415.4" stroke="#00008b" stroke-width="1.3"/>
<polygon points="467.3,413.3 464.2,417.3 462.2,413.5" fill="#00008b" />
<line x1="463.1" y1="419.1" x2="470.2" y2="415.4" stroke="#00008b" stroke-width="1.3"/>
<polygon points="474.3,413.3 471.2,417.3 469.3,413.5" fill="#00008b" />
<line x1="470.1" y1="419.0" x2="477.3" y2="415.5" stroke="#00008b" stroke-width="1.3"/>
<polygon points="481.4,413.4 478.2,417.3 476.3,413.6" fill="#00008b" />
<line x1="477.1" y1="419.0" x2="484.3" y2="415.5" stroke="#00008b" stroke-width="1.3"/>
<polygon points="488.4,413.4 485.2,417.3 483.4,413.6" fill="#00008b" />
<line x1="484.3" y1="419.4" x2="491.4" y2="415.3" stroke="#00008b" stroke-width="1.3"/>
<polygon points="495.3,413.0 492.4,417.1 490.3,413.5" fill="#00008b" />
<line x1="491.8" y1="420.7" x2="498.4" y2="414.8" stroke="#00008b" stroke-width="1.3"/>
<polygon points="501.8,411.7 499.8,416.3 497.0,413.2" fill="#00008b" />
<line x1="499.1" y1="421.0" x2="505.4" y2="414.6" stroke="#00008b" stroke-width="1.3"/>
<polygon points="508.7,411.4 506.9,416.1 503.9,413.2" fill="#00008b" />
<line x1="506.1" y1="421.0" x2="512.4" y2="414.6" stroke="#00008b" stroke-width="1.3"/>
<polygon points="515.7,411.4 513.9,416.1 511.0,413.2" fill="#00008b" />
<line x1="513.3" y1="421.3" x2="519.5" y2="414.5" stroke="#00008b" stroke-width="1.3"/>
<polygon points="522.5,411.1 521.0,415.9 517.9,413.1" fill="#00008b" />
<line x1="520.5" y1="421.5" x2="526.5" y2="414.4" stroke="#00008b" stroke-width="1.3"/>
<polygon points="529.4,410.9 528.1,415.8 524.9,413.1" fill="#00008b" />
<line x1="527.9" y1="422.0" x2="533.4" y2="414.2" stroke="#00008b" stroke-width="1.3"/>
<polygon points="536.0,410.4 535.1,415.4 531.7,413.0" fill="#00008b" />
<line x1="535.2" y1="422.3" x2="540.4" y2="414.0" stroke="#00008b" stroke-width="1.3"/>
<polygon points="542.8,410.1 542.2,415.1 538.6,412.9" fill="#00008b" />
<line x1="542.8" y1="422.7" x2="547.3" y2="413.8" stroke="#00008b" stroke-width="1.3"/>
<polygon points="549.4,409.7 549.1,414.8 545.4,412.9" fill="#00008b" />
<line x1="550.2" y1="423.0" x2="554.2" y2="413.7" stroke="#00008b" stroke-width="1.3"/>
<polygon points="556.0,409.4 556.1,414.5 552.2,412.8" fill="#00008b" />
<line x1="557.8" y1="423.3" x2="561.0" y2="413.5" stroke="#00008b" stroke-width="1.3"/>
<polygon points="562.4,409.1 563.0,414.1 559.0,412.8" fill="#00008b" />
<line x1="566.4" y1="423.7" x2="567.5" y2="413.2" stroke="#00008b" stroke-width="1.3"/>
<polygon points="567.9,408.7 569.6,413.5 565.4,413.0" fill="#00008b" />
<line x1="572.4" y1="423.5" x2="574.9" y2="413.4" stroke="#00008b" stroke-width="1.3"/>
<polygon points="576.0,408.9 576.9,413.9 572.9,412.9" fill="#00008b" />
<line x1="579.9" y1="423.6" x2="581.7" y2="413.3" stroke="#00008b" stroke-width="1.3"/>
<polygon points="582.5,408.8 583.8,413.7 579.7,412.9" fill="#00008b" />
<line x1="587.2" y1="423.7" x2="588.7" y2="413.3" stroke="#00008b" stroke-width="1.3"/>
<polygon points="589.3,408.7 590.7,413.6 586.6,413.0" fill="#00008b" />
<line x1="594.0" y1="423.6" x2="595.8" y2="413.3" stroke="#00008b" stroke-width="1.3"/>
<polygon points="596.6,408.8 597.9,413.7 593.7,412.9" fill="#00008b" />
<line x1="601.7" y1="423.8" x2="602.6" y2="413.2" stroke="#00008b" stroke-width="1.3"/>
<polygon points="603.0,408.6 604.7,413.4 600.5,413.0" fill="#00008b" />
<line x1="609.1" y1="423.8" x2="609.5" y2="413.2" stroke="#00008b" stroke-width="1.3"/>
<polygon points="609.6,408.6 611.6,413.3 607.4,413.1" fill="#00008b" />
<line x1="616.1" y1="423.8" x2="616.5" y2="413.2" stroke="#00008b" stroke-width="1.3"/>
<polygon points="616.7,408.6 618.6,413.3 614.4,413.1" fill="#00008b" />
<line x1="623.2" y1="423.8" x2="623.5" y2="413.2" stroke="#00008b" stroke-width="1.3"/>
<polygon points="623.7,408.6 625.6,413.3 621.4,413.1" fill="#00008b" />
<line x1="630.2" y1="423.8" x2="630.6" y2="413.2" stroke="#00008b" stroke-width="1.3"/>
<polygon points="630.7,408.6 632.7,413.3 628.5,413.1" fill="#00008b" />
<line x1="637.2" y1="423.8" x2="637.6" y2="413.2" stroke="#00008b" stroke-width="1.3"/>
<polygon points="637.8,408.6 639.7,413.3 635.5,413.1" fill="#00008b" />
<line x1="644.3" y1="423.8" x2="644.6" y2="413.2" stroke="#00008b" stroke-width="1.3"/>
<polygon points="644.8,408.6 646.7,413.3 642.5,413.1" fill="#00008b" />
<line x1="651.3" y1="423.8" x2="651.7" y2="413.2" stroke="#00008b" stroke-width="1.3"/>
<polygon points="651.8,408.6 653.8,413.3 649.6,413.1" fill="#00008b" />
<line x1="658.3" y1="423.8" x2="658.7" y2="413.2" stroke="#00008b" stroke-width="1.3"/>
<polygon points="658.9,408.6 660.8,413.3 656.6,413.1" fill="#00008b" />
<line x1="665.4" y1="423.8" x2="665.7" y2="413.2" stroke="#00008b" stroke-width="1.3"/>
<polygon points="665.9,408.6 667.8,413.3 663.6,413.1" fill="#00008b" />
<line x1="672.7" y1="423.8" x2="672.7" y2="413.2" stroke="#00008b" stroke-width="1.3"/>
<polygon points="672.7,408.6 674.8,413.2 670.6,413.2" fill="#00008b" />
<line x1="679.7" y1="423.8" x2="679.7" y2="413.2" stroke="#00008b" stroke-width="1.3"/>
<polygon points="679.7,408.6 681.8,413.2 677.6,413.2" fill="#00008b" />
<line x1="686.7" y1="423.8" x2="686.7" y2="413.2" stroke="#00008b" stroke-width="1.3"/>
<polygon points="686.7,408.6 688.8,413.2 684.6,413.2" fill="#00008b" />
<line x1="694.1" y1="423.8" x2="693.6" y2="413.2" stroke="#00008b" stroke-width="1.3"/>
<polygon points="693.4,408.6 695.7,413.1 691.5,413.3" fill="#00008b" />
<line x1="701.4" y1="423.8" x2="700.5" y2="413.2" stroke="#00008b" stroke-width="1.3"/>
<polygon points="700.1,408.6 702.6,413.0 698.4,413.4" fill="#00008b" />
<line x1="708.7" y1="423.7" x2="707.5" y2="413.2" stroke="#00008b" stroke-width="1.3"/>
<polygon points="706.9,408.7 709.5,413.0 705.4,413.5" fill="#00008b" />
<line x1="716.2" y1="423.6" x2="714.3" y2="413.3" stroke="#00008b" stroke-width="1.3"/>
<polygon points="713.5,408.8 716.4,412.9 712.3,413.7" fill="#00008b" />
<line x1="723.4" y1="423.6" x2="721.3" y2="413.3" stroke="#00008b" stroke-width="1.3"/>
<polygon points="720.3,408.8 723.3,412.9 719.2,413.8" fill="#00008b" />
<line x1="730.6" y1="423.5" x2="728.3" y2="413.4" stroke="#00008b" stroke-width="1.3"/>
<polygon points="727.2,408.9 730.3,412.9 726.2,413.8" fill="#00008b" />
<line x1="737.8" y1="423.5" x2="735.2" y2="413.4" stroke="#00008b" stroke-width="1.3"/>
<polygon points="734.1,408.9 737.3,412.9 733.2,413.9" fill="#00008b" />
<line x1="744.9" y1="423.4" x2="742.2" y2="413.4" stroke="#00008b" stroke-width="1.3"/>
<polygon points="741.0,409.0 744.3,412.9 740.2,413.9" fill="#00008b" />
<line x1="752.1" y1="423.4" x2="749.2" y2="413.4" stroke="#00008b" stroke-width="1.3"/>
<polygon points="748.0,409.0 751.2,412.9 747.2,414.0" fill="#00008b" />
<line x1="759.2" y1="423.3" x2="756.2" y2="413.5" stroke="#00008b" stroke-width="1.3"/>
<polygon points="754.9,409.1 758.2,412.8 754.2,414.1" fill="#00008b" />
<rect x="342.8" y="401.6" width="415.2" height="30.0" fill="none" stroke="#000" stroke-width="1.4"/>
<rect x="342.8" y="437.6" width="415.2" height="78.7" fill="#87d3ff" />
<rect x="343.0" y="437.6" width="83.2" height="78.7" fill="#000" opacity="0.075"/>
<rect x="477.2" y="437.6" width="117.8" height="78.7" fill="#000" opacity="0.075"/>
<rect x="646.2" y="437.6" width="111.8" height="78.7" fill="#000" opacity="0.075"/>
<clipPath id="c6"><rect x="342.8" y="437.6" width="415.2" height="78.69999999999993"/></clipPath><g clip-path="url(#c6)">
<circle cx="342.6" cy="508.0" r="2.7" fill="#fff"/>
<circle cx="349.6" cy="508.0" r="2.7" fill="#fff"/>
<circle cx="356.7" cy="508.0" r="2.7" fill="#fff"/>
<circle cx="363.7" cy="508.0" r="2.7" fill="#fff"/>
<circle cx="370.7" cy="508.0" r="2.7" fill="#fff"/>
<circle cx="377.8" cy="508.0" r="2.7" fill="#fff"/>
<circle cx="384.8" cy="508.0" r="2.7" fill="#fff"/>
<circle cx="391.8" cy="508.0" r="2.7" fill="#fff"/>
<circle cx="398.9" cy="508.0" r="2.7" fill="#fff"/>
<circle cx="342.6" cy="478.0" r="2.7" fill="#777"/>
<circle cx="342.6" cy="476.0" r="2.7" fill="#000"/>
<circle cx="349.6" cy="482.3" r="2.7" fill="#777"/>
<circle cx="349.6" cy="480.3" r="2.7" fill="#000"/>
<circle cx="356.7" cy="478.7" r="2.7" fill="#777"/>
<circle cx="356.7" cy="476.7" r="2.7" fill="#000"/>
<circle cx="363.7" cy="475.5" r="2.7" fill="#777"/>
<circle cx="363.7" cy="473.5" r="2.7" fill="#000"/>
<circle cx="370.7" cy="482.2" r="2.7" fill="#b5b5b5"/>
<circle cx="370.7" cy="480.7" r="2.7" fill="#7a7a7a"/>
<circle cx="377.8" cy="483.5" r="2.7" fill="#777"/>
<circle cx="377.8" cy="481.5" r="2.7" fill="#000"/>
<circle cx="384.8" cy="484.0" r="2.7" fill="#777"/>
<circle cx="384.8" cy="482.0" r="2.7" fill="#000"/>
<circle cx="391.8" cy="481.8" r="2.7" fill="#777"/>
<circle cx="391.8" cy="479.8" r="2.7" fill="#000"/>
<circle cx="398.9" cy="481.8" r="2.7" fill="#b5b5b5"/>
<circle cx="398.9" cy="480.3" r="2.7" fill="#7a7a7a"/>
<circle cx="405.9" cy="476.4" r="2.7" fill="#5a5a5a"/>
<circle cx="405.9" cy="508.6" r="2.7" fill="#fff"/>
<circle cx="405.9" cy="505.3" r="2.7" fill="#d8d8d8"/>
<circle cx="405.9" cy="502.0" r="2.7" fill="#a6a6a6"/>
<circle cx="412.9" cy="508.6" r="2.7" fill="#fff"/>
<circle cx="412.9" cy="505.7" r="2.7" fill="#d0d0d0"/>
<circle cx="412.9" cy="502.7" r="2.7" fill="#a0a0a0"/>
<circle cx="412.9" cy="499.8" r="2.7" fill="#666"/>
<circle cx="420.0" cy="508.6" r="2.7" fill="#fff"/>
<circle cx="420.0" cy="505.8" r="2.7" fill="#c8c8c8"/>
<circle cx="420.0" cy="503.1" r="2.7" fill="#888"/>
<circle cx="420.0" cy="500.3" r="2.7" fill="#000"/>
<circle cx="427.0" cy="508.6" r="2.7" fill="#fff"/>
<circle cx="427.0" cy="505.7" r="2.7" fill="#c8c8c8"/>
<circle cx="427.0" cy="502.7" r="2.7" fill="#888"/>
<circle cx="427.0" cy="499.8" r="2.7" fill="#000"/>
<circle cx="434.0" cy="508.6" r="2.7" fill="#fff"/>
<circle cx="434.0" cy="506.4" r="2.7" fill="#c8c8c8"/>
<circle cx="434.0" cy="504.2" r="2.7" fill="#888"/>
<circle cx="434.0" cy="502.0" r="2.7" fill="#000"/>
<circle cx="441.1" cy="508.6" r="2.7" fill="#fff"/>
<circle cx="441.1" cy="506.2" r="2.7" fill="#c8c8c8"/>
<circle cx="441.1" cy="503.9" r="2.7" fill="#888"/>
<circle cx="441.1" cy="501.5" r="2.7" fill="#000"/>
<circle cx="448.1" cy="508.6" r="2.7" fill="#fff"/>
<circle cx="448.1" cy="506.4" r="2.7" fill="#c8c8c8"/>
<circle cx="448.1" cy="504.2" r="2.7" fill="#888"/>
<circle cx="448.1" cy="502.0" r="2.7" fill="#000"/>
<circle cx="455.1" cy="508.6" r="2.7" fill="#fff"/>
<circle cx="455.1" cy="506.4" r="2.7" fill="#c8c8c8"/>
<circle cx="455.1" cy="504.2" r="2.7" fill="#888"/>
<circle cx="455.1" cy="502.0" r="2.7" fill="#000"/>
<circle cx="462.2" cy="508.6" r="2.7" fill="#fff"/>
<circle cx="462.2" cy="507.1" r="2.7" fill="#c8c8c8"/>
<circle cx="462.2" cy="505.5" r="2.7" fill="#888"/>
<circle cx="462.2" cy="504.0" r="2.7" fill="#000"/>
<circle cx="469.2" cy="508.6" r="2.7" fill="#fff"/>
<circle cx="469.2" cy="506.4" r="2.7" fill="#c8c8c8"/>
<circle cx="469.2" cy="504.2" r="2.7" fill="#888"/>
<circle cx="469.2" cy="502.0" r="2.7" fill="#000"/>
<circle cx="476.2" cy="508.6" r="2.7" fill="#fff"/>
<circle cx="476.2" cy="506.7" r="2.7" fill="#c8c8c8"/>
<circle cx="476.2" cy="504.9" r="2.7" fill="#888"/>
<circle cx="476.2" cy="503.0" r="2.7" fill="#000"/>
<circle cx="483.3" cy="508.3" r="2.7" fill="#999"/>
<circle cx="483.3" cy="506.3" r="2.7" fill="#000"/>
<circle cx="490.3" cy="508.8" r="2.7" fill="#000"/>
<circle cx="497.3" cy="510.5" r="2.7" fill="#000"/>
<circle cx="504.4" cy="510.4" r="2.7" fill="#000"/>
<circle cx="511.4" cy="510.4" r="2.7" fill="#000"/>
<circle cx="518.4" cy="510.4" r="2.7" fill="#000"/>
<circle cx="525.5" cy="510.4" r="2.7" fill="#000"/>
<circle cx="532.5" cy="510.4" r="2.7" fill="#000"/>
<circle cx="539.5" cy="510.4" r="2.7" fill="#000"/>
<circle cx="546.6" cy="510.4" r="2.7" fill="#000"/>
<circle cx="553.6" cy="510.4" r="2.7" fill="#000"/>
<circle cx="560.6" cy="510.4" r="2.7" fill="#000"/>
<circle cx="567.7" cy="510.4" r="2.7" fill="#000"/>
<circle cx="574.7" cy="510.4" r="2.7" fill="#000"/>
<circle cx="581.7" cy="510.4" r="2.7" fill="#000"/>
<circle cx="588.8" cy="510.4" r="2.7" fill="#000"/>
<circle cx="595.8" cy="510.4" r="2.7" fill="#000"/>
<circle cx="602.8" cy="510.4" r="2.7" fill="#000"/>
<circle cx="609.9" cy="510.4" r="2.7" fill="#000"/>
<circle cx="616.9" cy="510.4" r="2.7" fill="#000"/>
<circle cx="623.9" cy="510.4" r="2.7" fill="#000"/>
<circle cx="631.0" cy="510.4" r="2.7" fill="#000"/>
<circle cx="638.0" cy="510.4" r="2.7" fill="#000"/>
<circle cx="645.0" cy="509.2" r="2.7" fill="#999"/>
<circle cx="645.0" cy="507.2" r="2.7" fill="#000"/>
<circle cx="652.1" cy="509.2" r="2.7" fill="#999"/>
<circle cx="652.1" cy="507.2" r="2.7" fill="#000"/>
<circle cx="659.1" cy="510.4" r="2.7" fill="#000"/>
<circle cx="666.1" cy="510.4" r="2.7" fill="#000"/>
<circle cx="673.2" cy="508.6" r="2.7" fill="#000"/>
<circle cx="680.2" cy="510.4" r="2.7" fill="#000"/>
<circle cx="687.2" cy="510.4" r="2.7" fill="#000"/>
<circle cx="694.2" cy="510.4" r="2.7" fill="#000"/>
<circle cx="701.3" cy="510.4" r="2.7" fill="#000"/>
<circle cx="708.3" cy="510.4" r="2.7" fill="#000"/>
<circle cx="715.3" cy="510.4" r="2.7" fill="#000"/>
<circle cx="722.4" cy="510.4" r="2.7" fill="#000"/>
<circle cx="729.4" cy="510.4" r="2.7" fill="#000"/>
<circle cx="736.4" cy="510.4" r="2.7" fill="#000"/>
<circle cx="743.5" cy="509.2" r="2.7" fill="#999"/>
<circle cx="743.5" cy="507.2" r="2.7" fill="#000"/>
<circle cx="750.5" cy="509.2" r="2.7" fill="#999"/>
<circle cx="750.5" cy="507.2" r="2.7" fill="#000"/>
<circle cx="757.5" cy="508.6" r="2.7" fill="#000"/>
<circle cx="342.6" cy="445.3" r="2.7" fill="#b22222"/>
<circle cx="349.6" cy="444.0" r="2.7" fill="#b22222"/>
<circle cx="356.7" cy="444.0" r="2.7" fill="#b22222"/>
<circle cx="363.7" cy="447.4" r="2.7" fill="#b22222"/>
<circle cx="370.7" cy="447.4" r="2.7" fill="#b22222"/>
<circle cx="377.8" cy="447.4" r="2.7" fill="#b22222"/>
<circle cx="384.8" cy="447.4" r="2.7" fill="#b22222"/>
<circle cx="391.8" cy="445.7" r="2.7" fill="#b22222"/>
<circle cx="398.9" cy="444.0" r="2.7" fill="#b22222"/>
<circle cx="405.9" cy="444.0" r="2.7" fill="#b22222"/>
<circle cx="412.9" cy="444.0" r="2.7" fill="#b22222"/>
<circle cx="420.0" cy="444.0" r="2.7" fill="#b22222"/>
<circle cx="427.0" cy="444.0" r="2.7" fill="#b22222"/>
<circle cx="434.0" cy="444.0" r="2.7" fill="#b22222"/>
<circle cx="441.1" cy="444.0" r="2.7" fill="#b22222"/>
<circle cx="448.1" cy="444.0" r="2.7" fill="#b22222"/>
<circle cx="455.1" cy="444.0" r="2.7" fill="#b22222"/>
<circle cx="462.2" cy="444.0" r="2.7" fill="#b22222"/>
<circle cx="469.2" cy="444.0" r="2.7" fill="#b22222"/>
<circle cx="476.2" cy="444.0" r="2.7" fill="#b22222"/>
<circle cx="483.3" cy="444.0" r="2.7" fill="#b22222"/>
<circle cx="490.3" cy="444.0" r="2.7" fill="#b22222"/>
<circle cx="497.3" cy="444.0" r="2.7" fill="#b22222"/>
<circle cx="504.4" cy="444.0" r="2.7" fill="#b22222"/>
<circle cx="511.4" cy="444.0" r="2.7" fill="#b22222"/>
<circle cx="518.4" cy="444.0" r="2.7" fill="#b22222"/>
<circle cx="525.5" cy="444.0" r="2.7" fill="#b22222"/>
<circle cx="532.5" cy="444.0" r="2.7" fill="#b22222"/>
<circle cx="539.5" cy="444.0" r="2.7" fill="#b22222"/>
<circle cx="546.6" cy="444.0" r="2.7" fill="#b22222"/>
<circle cx="553.6" cy="445.3" r="2.7" fill="#b22222"/>
<circle cx="560.6" cy="445.3" r="2.7" fill="#b22222"/>
<circle cx="567.7" cy="445.3" r="2.7" fill="#b22222"/>
<circle cx="574.7" cy="497.4" r="2.7" fill="#b22222"/>
<circle cx="581.7" cy="497.4" r="2.7" fill="#b22222"/>
<circle cx="588.8" cy="497.4" r="2.7" fill="#b22222"/>
<circle cx="595.8" cy="497.4" r="2.7" fill="#b22222"/>
<circle cx="602.8" cy="499.8" r="2.7" fill="#b22222"/>
<circle cx="609.9" cy="447.4" r="2.7" fill="#b22222"/>
<circle cx="616.9" cy="447.3" r="2.7" fill="#b22222"/>
<circle cx="623.9" cy="452.1" r="2.7" fill="#b22222"/>
<circle cx="631.0" cy="448.6" r="2.7" fill="#b22222"/>
<circle cx="638.0" cy="448.6" r="2.7" fill="#b22222"/>
<circle cx="645.0" cy="447.3" r="2.7" fill="#b22222"/>
<circle cx="652.1" cy="450.0" r="2.7" fill="#b22222"/>
<circle cx="659.1" cy="452.7" r="2.7" fill="#b22222"/>
<circle cx="666.1" cy="458.0" r="2.7" fill="#b22222"/>
<circle cx="673.2" cy="448.6" r="2.7" fill="#b22222"/>
<circle cx="680.2" cy="447.3" r="2.7" fill="#b22222"/>
<circle cx="687.2" cy="447.3" r="2.7" fill="#b22222"/>
<circle cx="694.2" cy="445.4" r="2.7" fill="#b22222"/>
<circle cx="701.3" cy="445.4" r="2.7" fill="#b22222"/>
<circle cx="708.3" cy="445.4" r="2.7" fill="#b22222"/>
<circle cx="715.3" cy="445.4" r="2.7" fill="#b22222"/>
<circle cx="722.4" cy="445.4" r="2.7" fill="#b22222"/>
<circle cx="729.4" cy="445.4" r="2.7" fill="#b22222"/>
<circle cx="736.4" cy="445.4" r="2.7" fill="#b22222"/>
<circle cx="743.5" cy="445.4" r="2.7" fill="#b22222"/>
<circle cx="750.5" cy="445.4" r="2.7" fill="#b22222"/>
<circle cx="757.5" cy="445.4" r="2.7" fill="#b22222"/>
</g>
<line x1="356.6" y1="437.6" x2="356.6" y2="516.3" stroke="#000" stroke-width="1" stroke-dasharray="2,2"/>
<line x1="377.7" y1="437.6" x2="377.7" y2="516.3" stroke="#000" stroke-width="1" stroke-dasharray="2,2"/>
<line x1="398.8" y1="437.6" x2="398.8" y2="516.3" stroke="#000" stroke-width="1" stroke-dasharray="2,2"/>
<line x1="419.9" y1="437.6" x2="419.9" y2="516.3" stroke="#000" stroke-width="1" stroke-dasharray="2,2"/>
<line x1="441.0" y1="437.6" x2="441.0" y2="516.3" stroke="#000" stroke-width="1" stroke-dasharray="2,2"/>
<line x1="462.1" y1="437.6" x2="462.1" y2="516.3" stroke="#000" stroke-width="1" stroke-dasharray="2,2"/>
<line x1="483.2" y1="437.6" x2="483.2" y2="516.3" stroke="#000" stroke-width="1" stroke-dasharray="2,2"/>
<line x1="504.3" y1="437.6" x2="504.3" y2="516.3" stroke="#000" stroke-width="1" stroke-dasharray="2,2"/>
<line x1="525.4" y1="437.6" x2="525.4" y2="516.3" stroke="#000" stroke-width="1" stroke-dasharray="2,2"/>
<line x1="546.5" y1="437.6" x2="546.5" y2="516.3" stroke="#000" stroke-width="1" stroke-dasharray="2,2"/>
<line x1="567.6" y1="437.6" x2="567.6" y2="516.3" stroke="#000" stroke-width="1" stroke-dasharray="2,2"/>
<line x1="588.7" y1="437.6" x2="588.7" y2="516.3" stroke="#000" stroke-width="1" stroke-dasharray="2,2"/>
<line x1="609.8" y1="437.6" x2="609.8" y2="516.3" stroke="#000" stroke-width="1" stroke-dasharray="2,2"/>
<line x1="630.9" y1="437.6" x2="630.9" y2="516.3" stroke="#000" stroke-width="1" stroke-dasharray="2,2"/>
<line x1="652.0" y1="437.6" x2="652.0" y2="516.3" stroke="#000" stroke-width="1" stroke-dasharray="2,2"/>
<line x1="673.1" y1="437.6" x2="673.1" y2="516.3" stroke="#000" stroke-width="1" stroke-dasharray="2,2"/>
<line x1="694.2" y1="437.6" x2="694.2" y2="516.3" stroke="#000" stroke-width="1" stroke-dasharray="2,2"/>
<line x1="715.3" y1="437.6" x2="715.3" y2="516.3" stroke="#000" stroke-width="1" stroke-dasharray="2,2"/>
<line x1="736.4" y1="437.6" x2="736.4" y2="516.3" stroke="#000" stroke-width="1" stroke-dasharray="2,2"/>
<line x1="757.5" y1="437.6" x2="757.5" y2="516.3" stroke="#000" stroke-width="1" stroke-dasharray="2,2"/>
<line x1="342.8" y1="438.2" x2="758.0" y2="438.2" stroke="#000" stroke-width="1" stroke-dasharray="2,2"/>
<line x1="342.8" y1="457.6" x2="758.0" y2="457.6" stroke="#000" stroke-width="1" stroke-dasharray="2,2"/>
<line x1="342.8" y1="477.1" x2="758.0" y2="477.1" stroke="#000" stroke-width="1" stroke-dasharray="2,2"/>
<line x1="342.8" y1="496.8" x2="758.0" y2="496.8" stroke="#000" stroke-width="1" stroke-dasharray="2,2"/>
<polyline points="342.8,457.0 350.0,458.8 362.5,457.0 398.5,457.0 412.5,457.5 419.5,460.0 430.0,459.3 441.0,460.8 455.0,458.3 469.3,462.6 477.5,465.6 482.8,468.2 490.5,477.2 497.3,482.4 504.1,508.8 511.3,490.0 518.3,510.5 525.5,510.5 532.5,490.9 539.5,511.9 546.3,509.7 553.3,512.2 567.5,512.2 574.5,511.4 581.5,509.7 588.5,513.6 602.7,514.0 609.7,508.5 616.6,495.6 623.6,492.4 630.9,490.2 637.8,489.2 644.8,480.3 651.8,479.8 658.8,488.3 665.7,491.0 672.7,487.8 679.7,499.1 686.7,511.2 693.6,513.3 728.8,512.5 735.8,496.4 743.5,478.2 750.3,474.9 757.5,476.8" fill="none" stroke="#ff9800" stroke-width="2" stroke-linejoin="round"/>
<rect x="342.8" y="437.6" width="415.2" height="78.7" fill="none" stroke="#000" stroke-width="1.4"/>
<clipPath id="c7"><rect x="342.8" y="525.6" width="415.2" height="77.60000000000002"/></clipPath><g clip-path="url(#c7)">
<rect x="342.8" y="525.6" width="415.2" height="77.6" fill="#87d3ff" />
<rect x="343.0" y="525.6" width="83.2" height="77.6" fill="#000" opacity="0.075"/>
<rect x="477.2" y="525.6" width="117.8" height="77.6" fill="#000" opacity="0.075"/>
<rect x="646.2" y="525.6" width="111.8" height="77.6" fill="#000" opacity="0.075"/>
<polygon points="342.8,526.2 351.5,526.2 356.8,528.2 363.6,529.6 370.4,533.0 377.6,526.2 389.2,526.4 392.6,530.8 398.6,543.6 406.3,543.6 413.1,539.3 419.6,536.2 426.9,527.3 429.5,536.2 433.7,526.0 435.9,526.0 441.4,529.0 447.8,526.0 640.0,526.0 646.0,526.6 651.0,526.0 758.0,526.0 758.0,603.2 342.8,603.2" fill="#ffffff" />
<polygon points="342.8,526.2 350.0,526.2 356.8,530.8 363.6,534.2 370.4,537.6 377.6,526.5 389.2,526.4 392.6,530.8 398.6,543.6 406.3,543.6 413.1,539.3 419.6,536.2 426.9,527.3 429.5,536.2 433.7,526.0 435.9,526.0 441.4,529.0 447.8,526.0 758.0,526.0 758.0,603.2 342.8,603.2" fill="#969696" />
<polygon points="342.8,582.9 349.6,554.7 356.8,586.3 363.6,596.5 370.4,552.1 377.6,526.5 389.2,527.4 398.6,543.6 400.0,549.0 406.0,570.4 411.1,561.0 416.2,545.6 419.6,539.6 426.5,546.5 429.5,536.2 433.7,526.0 435.9,526.0 441.4,529.0 447.8,526.0 758.0,526.0 758.0,603.2 342.8,603.2" fill="#575757" />
<polygon points="342.8,604.0 402.9,603.0 426.8,594.8 440.4,584.6 457.5,583.7 464.3,578.6 470.0,580.0 478.5,575.0 482.8,561.0 490.0,535.4 497.7,526.5 525.0,526.0 530.0,528.0 536.0,526.0 617.0,526.0 626.8,530.0 640.0,539.5 651.0,536.8 661.7,534.0 675.0,528.7 690.0,526.0 758.0,526.0 758.0,603.2 342.8,603.2" fill="#343434" />
<line x1="356.6" y1="525.6" x2="356.6" y2="603.2" stroke="#000" stroke-width="1" stroke-dasharray="2,2"/>
<line x1="377.7" y1="525.6" x2="377.7" y2="603.2" stroke="#000" stroke-width="1" stroke-dasharray="2,2"/>
<line x1="398.8" y1="525.6" x2="398.8" y2="603.2" stroke="#000" stroke-width="1" stroke-dasharray="2,2"/>
<line x1="419.9" y1="525.6" x2="419.9" y2="603.2" stroke="#000" stroke-width="1" stroke-dasharray="2,2"/>
<line x1="441.0" y1="525.6" x2="441.0" y2="603.2" stroke="#000" stroke-width="1" stroke-dasharray="2,2"/>
<line x1="462.1" y1="525.6" x2="462.1" y2="603.2" stroke="#000" stroke-width="1" stroke-dasharray="2,2"/>
<line x1="483.2" y1="525.6" x2="483.2" y2="603.2" stroke="#000" stroke-width="1" stroke-dasharray="2,2"/>
<line x1="504.3" y1="525.6" x2="504.3" y2="603.2" stroke="#000" stroke-width="1" stroke-dasharray="2,2"/>
<line x1="525.4" y1="525.6" x2="525.4" y2="603.2" stroke="#000" stroke-width="1" stroke-dasharray="2,2"/>
<line x1="546.5" y1="525.6" x2="546.5" y2="603.2" stroke="#000" stroke-width="1" stroke-dasharray="2,2"/>
<line x1="567.6" y1="525.6" x2="567.6" y2="603.2" stroke="#000" stroke-width="1" stroke-dasharray="2,2"/>
<line x1="588.7" y1="525.6" x2="588.7" y2="603.2" stroke="#000" stroke-width="1" stroke-dasharray="2,2"/>
<line x1="609.8" y1="525.6" x2="609.8" y2="603.2" stroke="#000" stroke-width="1" stroke-dasharray="2,2"/>
<line x1="630.9" y1="525.6" x2="630.9" y2="603.2" stroke="#000" stroke-width="1" stroke-dasharray="2,2"/>
<line x1="652.0" y1="525.6" x2="652.0" y2="603.2" stroke="#000" stroke-width="1" stroke-dasharray="2,2"/>
<line x1="673.1" y1="525.6" x2="673.1" y2="603.2" stroke="#000" stroke-width="1" stroke-dasharray="2,2"/>
<line x1="694.2" y1="525.6" x2="694.2" y2="603.2" stroke="#000" stroke-width="1" stroke-dasharray="2,2"/>
<line x1="715.3" y1="525.6" x2="715.3" y2="603.2" stroke="#000" stroke-width="1" stroke-dasharray="2,2"/>
<line x1="736.4" y1="525.6" x2="736.4" y2="603.2" stroke="#000" stroke-width="1" stroke-dasharray="2,2"/>
<line x1="757.5" y1="525.6" x2="757.5" y2="603.2" stroke="#000" stroke-width="1" stroke-dasharray="2,2"/>
<line x1="342.8" y1="545.1" x2="758.0" y2="545.1" stroke="#000" stroke-width="1" stroke-dasharray="2,2"/>
<line x1="342.8" y1="564.6" x2="758.0" y2="564.6" stroke="#000" stroke-width="1" stroke-dasharray="2,2"/>
<line x1="342.8" y1="584.2" x2="758.0" y2="584.2" stroke="#000" stroke-width="1" stroke-dasharray="2,2"/>
<polyline points="377.6,526.5 387.5,528.2 392.6,530.8 398.6,543.6" fill="none" stroke="#c4c4c4" stroke-width="1" />
<polyline points="429.5,536.2 429.9,540.5 434.2,555.9 441.4,532.8 447.3,547.0 455.0,554.7 457.5,569.2 462.6,600.0 469.5,602.5 623.6,602.5 630.9,577.0 637.8,566.3 644.8,590.4 651.8,582.4 658.8,575.7 665.7,578.4 672.7,594.5 679.7,602.5 714.6,602.8 721.5,598.5 728.5,597.2 735.8,566.3 743.5,546.2 750.3,549.7 757.5,563.6" fill="none" stroke="#b4b4b4" stroke-width="1" />
<polyline points="377.6,526.5 385.0,534.2 391.8,550.4 398.6,559.0 406.3,560.7 413.1,570.9 420.0,578.6 426.8,581.5 433.6,575.2 440.4,562.7 449.0,559.8 455.8,559.0 464.3,566.7 474.6,577.8 478.0,579.5 483.7,580.3 490.5,580.3 497.3,577.4 511.0,577.4 518.3,575.2 525.5,576.9 532.5,584.6 539.5,590.6 546.3,594.0 560.5,597.4 567.5,599.1 579.3,602.5 603.2,603.0 609.7,595.8 616.6,597.2 623.6,582.4 630.9,562.3 637.8,547.5 644.8,548.0 651.8,554.2 658.8,562.3 665.7,578.4 672.7,594.5 679.7,596.6 686.7,581.0 693.6,569.0 700.6,563.6 707.6,554.2 714.6,538.1 721.5,526.6 728.5,527.4 736.8,534.6 743.5,530.1 750.3,531.4 757.5,539.5" fill="none" stroke="#ffffff" stroke-width="1.05" stroke-linejoin="round"/>
<line x1="483.3" y1="602.4" x2="483.3" y2="605.2" stroke="#ffb400" stroke-width="2.7" stroke-linecap="round"/>
<line x1="483.3" y1="603.1" x2="483.3" y2="603.2" stroke="#000" stroke-width="0.9" stroke-dasharray="2,2.2"/>
<line x1="490.3" y1="568.8" x2="490.3" y2="605.2" stroke="#ffb400" stroke-width="2.7" stroke-linecap="round"/>
<line x1="497.3" y1="562.8" x2="497.3" y2="605.2" stroke="#ffb400" stroke-width="2.7" stroke-linecap="round"/>
<line x1="504.4" y1="549.2" x2="504.4" y2="605.2" stroke="#ffb400" stroke-width="2.7" stroke-linecap="round"/>
<line x1="504.4" y1="549.9" x2="504.4" y2="603.2" stroke="#000" stroke-width="0.9" stroke-dasharray="2,2.2"/>
<line x1="511.4" y1="554.8" x2="511.4" y2="605.2" stroke="#ffb400" stroke-width="2.7" stroke-linecap="round"/>
<line x1="518.4" y1="548.7" x2="518.4" y2="605.2" stroke="#ffb400" stroke-width="2.7" stroke-linecap="round"/>
<line x1="525.5" y1="548.7" x2="525.5" y2="605.2" stroke="#ffb400" stroke-width="2.7" stroke-linecap="round"/>
<line x1="525.5" y1="549.4" x2="525.5" y2="603.2" stroke="#000" stroke-width="0.9" stroke-dasharray="2,2.2"/>
<line x1="532.5" y1="554.8" x2="532.5" y2="605.2" stroke="#ffb400" stroke-width="2.7" stroke-linecap="round"/>
<line x1="539.5" y1="545.8" x2="539.5" y2="605.2" stroke="#ffb400" stroke-width="2.7" stroke-linecap="round"/>
<line x1="546.6" y1="549.2" x2="546.6" y2="605.2" stroke="#ffb400" stroke-width="2.7" stroke-linecap="round"/>
<line x1="546.6" y1="549.9" x2="546.6" y2="603.2" stroke="#000" stroke-width="0.9" stroke-dasharray="2,2.2"/>
<line x1="553.6" y1="544.1" x2="553.6" y2="605.2" stroke="#ffb400" stroke-width="2.7" stroke-linecap="round"/>
<line x1="560.6" y1="544.1" x2="560.6" y2="605.2" stroke="#ffb400" stroke-width="2.7" stroke-linecap="round"/>
<line x1="567.7" y1="542.7" x2="567.7" y2="605.2" stroke="#ffb400" stroke-width="2.7" stroke-linecap="round"/>
<line x1="567.7" y1="543.4" x2="567.7" y2="603.2" stroke="#000" stroke-width="0.9" stroke-dasharray="2,2.2"/>
<line x1="574.7" y1="547.5" x2="574.7" y2="605.2" stroke="#ffb400" stroke-width="2.7" stroke-linecap="round"/>
<line x1="581.7" y1="548.8" x2="581.7" y2="605.2" stroke="#ffb400" stroke-width="2.7" stroke-linecap="round"/>
<line x1="588.8" y1="540.6" x2="588.8" y2="605.2" stroke="#ffb400" stroke-width="2.7" stroke-linecap="round"/>
<line x1="588.8" y1="541.3" x2="588.8" y2="603.2" stroke="#000" stroke-width="0.9" stroke-dasharray="2,2.2"/>
<line x1="595.8" y1="537.7" x2="595.8" y2="605.2" stroke="#ffb400" stroke-width="2.7" stroke-linecap="round"/>
<line x1="602.8" y1="539.6" x2="602.8" y2="605.2" stroke="#ffb400" stroke-width="2.7" stroke-linecap="round"/>
<line x1="609.9" y1="549.0" x2="609.9" y2="605.2" stroke="#ffb400" stroke-width="2.7" stroke-linecap="round"/>
<line x1="609.9" y1="549.7" x2="609.9" y2="603.2" stroke="#000" stroke-width="0.9" stroke-dasharray="2,2.2"/>
<line x1="616.9" y1="552.8" x2="616.9" y2="605.2" stroke="#ffb400" stroke-width="2.7" stroke-linecap="round"/>
<line x1="623.9" y1="558.2" x2="623.9" y2="605.2" stroke="#ffb400" stroke-width="2.7" stroke-linecap="round"/>
<line x1="631.0" y1="562.8" x2="631.0" y2="605.2" stroke="#ffb400" stroke-width="2.7" stroke-linecap="round"/>
<line x1="631.0" y1="563.5" x2="631.0" y2="603.2" stroke="#000" stroke-width="0.9" stroke-dasharray="2,2.2"/>
<line x1="638.0" y1="563.6" x2="638.0" y2="605.2" stroke="#ffb400" stroke-width="2.7" stroke-linecap="round"/>
<line x1="645.0" y1="582.9" x2="645.0" y2="605.2" stroke="#ffb400" stroke-width="2.7" stroke-linecap="round"/>
<line x1="652.1" y1="582.3" x2="652.1" y2="605.2" stroke="#ffb400" stroke-width="2.7" stroke-linecap="round"/>
<line x1="652.1" y1="583.0" x2="652.1" y2="603.2" stroke="#000" stroke-width="0.9" stroke-dasharray="2,2.2"/>
<line x1="659.1" y1="562.8" x2="659.1" y2="605.2" stroke="#ffb400" stroke-width="2.7" stroke-linecap="round"/>
<line x1="666.1" y1="558.2" x2="666.1" y2="605.2" stroke="#ffb400" stroke-width="2.7" stroke-linecap="round"/>
<line x1="673.2" y1="563.6" x2="673.2" y2="605.2" stroke="#ffb400" stroke-width="2.7" stroke-linecap="round"/>
<line x1="673.2" y1="564.3" x2="673.2" y2="603.2" stroke="#000" stroke-width="0.9" stroke-dasharray="2,2.2"/>
<line x1="680.2" y1="551.5" x2="680.2" y2="605.2" stroke="#ffb400" stroke-width="2.7" stroke-linecap="round"/>
<line x1="687.2" y1="542.1" x2="687.2" y2="605.2" stroke="#ffb400" stroke-width="2.7" stroke-linecap="round"/>
<line x1="694.2" y1="530.6" x2="694.2" y2="605.2" stroke="#ffb400" stroke-width="2.7" stroke-linecap="round"/>
<line x1="694.2" y1="531.3" x2="694.2" y2="603.2" stroke="#000" stroke-width="0.9" stroke-dasharray="2,2.2"/>
<line x1="701.3" y1="530.0" x2="701.3" y2="605.2" stroke="#ffb400" stroke-width="2.7" stroke-linecap="round"/>
<line x1="708.3" y1="529.2" x2="708.3" y2="605.2" stroke="#ffb400" stroke-width="2.7" stroke-linecap="round"/>
<line x1="715.3" y1="533.3" x2="715.3" y2="605.2" stroke="#ffb400" stroke-width="2.7" stroke-linecap="round"/>
<line x1="715.3" y1="534.0" x2="715.3" y2="603.2" stroke="#000" stroke-width="0.9" stroke-dasharray="2,2.2"/>
<line x1="722.4" y1="536.7" x2="722.4" y2="605.2" stroke="#ffb400" stroke-width="2.7" stroke-linecap="round"/>
<line x1="729.4" y1="540.8" x2="729.4" y2="605.2" stroke="#ffb400" stroke-width="2.7" stroke-linecap="round"/>
<line x1="736.4" y1="552.8" x2="736.4" y2="605.2" stroke="#ffb400" stroke-width="2.7" stroke-linecap="round"/>
<line x1="736.4" y1="553.5" x2="736.4" y2="603.2" stroke="#000" stroke-width="0.9" stroke-dasharray="2,2.2"/>
<line x1="743.5" y1="568.9" x2="743.5" y2="605.2" stroke="#ffb400" stroke-width="2.7" stroke-linecap="round"/>
<line x1="750.5" y1="581.0" x2="750.5" y2="605.2" stroke="#ffb400" stroke-width="2.7" stroke-linecap="round"/>
<line x1="757.5" y1="569.7" x2="757.5" y2="605.2" stroke="#ffb400" stroke-width="2.7" stroke-linecap="round"/>
<line x1="757.5" y1="570.4" x2="757.5" y2="603.2" stroke="#000" stroke-width="0.9" stroke-dasharray="2,2.2"/>
</g>
<rect x="342.8" y="525.6" width="415.2" height="77.6" fill="none" stroke="#000" stroke-width="1.4"/>
<line x1="342.8" y1="604.4000000000001" x2="758.0" y2="604.4000000000001" stroke="#7fc8f0" stroke-width="1"/>
<clipPath id="wm"><rect x="342.8" y="136" width="415.2" height="296"/></clipPath><g clip-path="url(#wm)" opacity="0.035" fill="none" stroke="#000" stroke-linecap="butt">
<path d="M 482 216 C 445 186, 378 200, 374 262 C 372 312, 398 336, 445 350" stroke-width="22"/>
<path d="M 521 136 C 516 200, 496 260, 492 350" stroke-width="26"/>
</g>
<clipPath id="l1"><rect x="135.6" y="57.2" width="110.0" height="77.2"/></clipPath><g clip-path="url(#l1)">
<rect x="135.6" y="111.6" width="110.0" height="22.8" fill="#87cefa" />
<polygon points="135.6,88.0 142.0,90.0 150.0,94.0 160.0,99.0 170.0,104.0 184.0,107.0 206.0,109.0 226.0,111.0 234.0,108.0 245.6,105.0 245.6,115.1 240.0,118.5 233.0,122.5 226.0,119.5 220.0,118.5 206.0,117.5 192.0,117.1 184.0,115.9 178.0,115.9 170.0,114.5 160.0,109.5 150.0,105.5 142.0,103.5 135.6,102.9" fill="#ffe6da" />
<polygon points="135.6,103.0 142.0,103.6 150.0,106.0 160.0,109.4 170.0,113.0 178.0,114.4 184.0,115.0 192.0,117.0 206.0,118.0 212.0,118.4 220.0,116.6 226.0,119.0 233.0,123.0 240.0,117.0 245.6,116.0 245.6,122.0 233.0,128.0 226.0,129.4 212.0,129.0 200.0,127.0 184.0,122.0 170.0,118.0 150.0,111.0 135.6,108.0" fill="#b7e3ff" />
<rect x="170.0" y="111.6" width="61.6" height="22.8" fill="#1040c0" opacity="0.07"/>
</g>
<line x1="142.4" y1="57.2" x2="142.4" y2="134.4" stroke="#000" stroke-width="1" stroke-dasharray="2,2"/>
<line x1="163.6" y1="57.2" x2="163.6" y2="134.4" stroke="#000" stroke-width="1" stroke-dasharray="2,2"/>
<line x1="184.6" y1="57.2" x2="184.6" y2="134.4" stroke="#000" stroke-width="1" stroke-dasharray="2,2"/>
<line x1="205.6" y1="57.2" x2="205.6" y2="134.4" stroke="#000" stroke-width="1" stroke-dasharray="2,2"/>
<line x1="226.5" y1="57.2" x2="226.5" y2="134.4" stroke="#000" stroke-width="1" stroke-dasharray="2,2"/>
<line x1="135.6" y1="59.6" x2="245.6" y2="59.6" stroke="#000" stroke-width="1" stroke-dasharray="2,2"/>
<line x1="135.6" y1="77.2" x2="245.6" y2="77.2" stroke="#000" stroke-width="1" stroke-dasharray="2,2"/>
<line x1="135.6" y1="94.4" x2="245.6" y2="94.4" stroke="#000" stroke-width="1" stroke-dasharray="2,2"/>
<line x1="135.6" y1="111.6" x2="245.6" y2="111.6" stroke="#000" stroke-width="1" stroke-dasharray="2,2"/>
<line x1="135.6" y1="129.6" x2="245.6" y2="129.6" stroke="#000" stroke-width="1" stroke-dasharray="2,2"/>
<polyline points="135.6,113.8 150.0,113.6 157.0,115.0 164.0,115.4 178.0,116.0" fill="none" stroke="#6a5acd" stroke-width="2.6" stroke-dasharray="2.8,4.4"/>
<polyline points="214.0,120.0 222.0,120.4" fill="none" stroke="#6a5acd" stroke-width="2.6" stroke-dasharray="2.8,4.4"/>
<polyline points="237.0,118.5 244.0,117.5" fill="none" stroke="#6a5acd" stroke-width="2.6" stroke-dasharray="2.8,4.4"/>
<polyline points="135.6,103.0 142.0,103.6 150.0,106.0 160.0,109.4 170.0,113.0 178.0,114.4 184.0,115.0 192.0,117.0 206.0,118.0 212.0,118.4 220.0,116.6 226.0,119.0 233.0,123.0 240.0,117.0 245.6,116.0" fill="none" stroke="#0000ff" stroke-width="2.2" stroke-linejoin="round"/>
<polyline points="135.6,99.4 142.0,100.0 150.0,102.0 160.0,106.0 170.0,111.0 178.0,112.4 184.0,112.4 192.0,113.6 206.0,114.0 220.0,115.0 226.0,116.0 233.0,119.0 240.0,115.0 245.6,111.6" fill="none" stroke="#ff0000" stroke-width="2.2" stroke-linejoin="round"/>
<line x1="142.4" y1="70" x2="142.4" y2="99" stroke="#a52a2a" stroke-width="1"/>
<line x1="149.6" y1="78" x2="149.6" y2="100" stroke="#a52a2a" stroke-width="1"/>
<line x1="156.6" y1="87" x2="156.6" y2="104" stroke="#a52a2a" stroke-width="1"/>
<line x1="163.6" y1="96" x2="163.6" y2="108" stroke="#a52a2a" stroke-width="1"/>
<line x1="170.6" y1="101" x2="170.6" y2="114" stroke="#a52a2a" stroke-width="1"/>
<line x1="177.6" y1="103" x2="177.6" y2="119" stroke="#a52a2a" stroke-width="1"/>
<line x1="184.6" y1="105" x2="184.6" y2="118" stroke="#a52a2a" stroke-width="1"/>
<line x1="191.6" y1="107" x2="191.6" y2="124" stroke="#a52a2a" stroke-width="1"/>
<line x1="198.6" y1="108" x2="198.6" y2="126" stroke="#a52a2a" stroke-width="1"/>
<line x1="205.6" y1="109" x2="205.6" y2="127" stroke="#a52a2a" stroke-width="1"/>
<line x1="212.6" y1="109" x2="212.6" y2="129" stroke="#a52a2a" stroke-width="1"/>
<line x1="219.6" y1="110" x2="219.6" y2="131" stroke="#a52a2a" stroke-width="1"/>
<line x1="226.6" y1="111" x2="226.6" y2="131" stroke="#a52a2a" stroke-width="1"/>
<line x1="233.6" y1="111" x2="233.6" y2="133" stroke="#a52a2a" stroke-width="1"/>
<line x1="240.6" y1="106" x2="240.6" y2="120" stroke="#a52a2a" stroke-width="1"/>
<rect x="135.6" y="57.2" width="110.0" height="77.2" fill="none" stroke="#000" stroke-width="1.4"/>
<rect x="135.6" y="187.0" width="7.8" height="33.4" fill="#00a000" />
<rect x="143.4" y="181.0" width="6.6" height="39.4" fill="#00a000" />
<rect x="150.0" y="179.0" width="7.0" height="41.4" fill="#00a000" />
<rect x="157.0" y="202.0" width="7.4" height="18.4" fill="#00a000" />
<rect x="164.4" y="208.0" width="5.6" height="12.4" fill="#00a000" />
<rect x="170.0" y="218.0" width="7.0" height="2.4" fill="#00a000" />
<rect x="157.0" y="182.4" width="7.4" height="19.6" fill="#0028c8" />
<rect x="164.4" y="205.0" width="5.6" height="3.0" fill="#0028c8" />
<line x1="142.4" y1="143.2" x2="142.4" y2="220.4" stroke="#000" stroke-width="1" stroke-dasharray="2,2"/>
<line x1="163.6" y1="143.2" x2="163.6" y2="220.4" stroke="#000" stroke-width="1" stroke-dasharray="2,2"/>
<line x1="184.6" y1="143.2" x2="184.6" y2="220.4" stroke="#000" stroke-width="1" stroke-dasharray="2,2"/>
<line x1="205.6" y1="143.2" x2="205.6" y2="220.4" stroke="#000" stroke-width="1" stroke-dasharray="2,2"/>
<line x1="226.5" y1="143.2" x2="226.5" y2="220.4" stroke="#000" stroke-width="1" stroke-dasharray="2,2"/>
<line x1="135.6" y1="150.0" x2="245.6" y2="150.0" stroke="#000" stroke-width="1" stroke-dasharray="2,2"/>
<line x1="135.6" y1="168.0" x2="245.6" y2="168.0" stroke="#000" stroke-width="1" stroke-dasharray="2,2"/>
<line x1="135.6" y1="185.4" x2="245.6" y2="185.4" stroke="#000" stroke-width="1" stroke-dasharray="2,2"/>
<line x1="135.6" y1="203.0" x2="245.6" y2="203.0" stroke="#000" stroke-width="1" stroke-dasharray="2,2"/>
<line x1="139.4" y1="165" x2="139.4" y2="187" stroke="#00a000" stroke-width="1.2"/>
<line x1="146.6" y1="148" x2="146.6" y2="181" stroke="#00a000" stroke-width="1.2"/>
<line x1="153.6" y1="148" x2="153.6" y2="179" stroke="#00a000" stroke-width="1.2"/>
<line x1="161" y1="171.4" x2="161" y2="183" stroke="#0020c0" stroke-width="1"/>
<rect x="145.6" y="146.6" width="2.2" height="2.2" fill="#ff0000" />
<rect x="152.6" y="146.6" width="2.2" height="2.2" fill="#ff0000" />
<polyline points="135.6,173.0 140.0,172.0 145.0,167.0 150.0,160.0 156.0,156.0 164.0,153.0 184.0,152.4 190.0,149.4 197.0,149.0 206.0,155.0 212.0,156.0 220.0,151.0 226.0,149.4 234.0,153.0 240.0,158.0 245.6,165.0" fill="none" stroke="#e04010" stroke-width="2.2" stroke-linejoin="round"/>
<circle cx="139.4" cy="173" r="2.4" fill="#ffe600" stroke="#000" stroke-width="0.9"/>
<circle cx="146.6" cy="173" r="2.4" fill="#ffa000" stroke="#000" stroke-width="0.9"/>
<circle cx="153.6" cy="173" r="2.4" fill="#e80000" stroke="#000" stroke-width="0.9"/>
<line x1="138" y1="219.4" x2="164" y2="219.4" stroke="#ff0000" stroke-width="1.2" stroke-dasharray="3,2.5"/>
<rect x="135.6" y="143.2" width="110.0" height="77.2" fill="none" stroke="#000" stroke-width="1.4"/>
<polygon points="135.6,261.0 143.0,260.0 150.0,254.0 157.0,249.6 164.0,249.0 170.0,245.4 178.0,249.0 184.0,250.4 192.0,253.6 224.0,254.0 234.0,258.0 245.6,265.0 245.6,306.4 135.6,306.4" fill="#ffff00" />
<polygon points="164.4,248.8 169.8,245.5 169.8,306.4 164.4,306.4" fill="#ffd200" />
<line x1="142.4" y1="229.4" x2="142.4" y2="306.4" stroke="#000" stroke-width="1" stroke-dasharray="2,2"/>
<line x1="163.6" y1="229.4" x2="163.6" y2="306.4" stroke="#000" stroke-width="1" stroke-dasharray="2,2"/>
<line x1="184.6" y1="229.4" x2="184.6" y2="306.4" stroke="#000" stroke-width="1" stroke-dasharray="2,2"/>
<line x1="205.6" y1="229.4" x2="205.6" y2="306.4" stroke="#000" stroke-width="1" stroke-dasharray="2,2"/>
<line x1="226.5" y1="229.4" x2="226.5" y2="306.4" stroke="#000" stroke-width="1" stroke-dasharray="2,2"/>
<line x1="135.6" y1="231.4" x2="245.6" y2="231.4" stroke="#000" stroke-width="1" stroke-dasharray="2,2"/>
<line x1="135.6" y1="254.6" x2="245.6" y2="254.6" stroke="#000" stroke-width="1" stroke-dasharray="2,2"/>
<line x1="135.6" y1="278.6" x2="245.6" y2="278.6" stroke="#000" stroke-width="1" stroke-dasharray="2,2"/>
<line x1="135.6" y1="302.0" x2="245.6" y2="302.0" stroke="#000" stroke-width="1" stroke-dasharray="2,2"/>
<polyline points="135.6,261.0 143.0,260.0 150.0,254.0 157.0,249.6 164.0,249.0 170.0,245.4 178.0,249.0 184.0,250.4 192.0,253.6 224.0,254.0 234.0,258.0 245.6,265.0" fill="none" stroke="#000" stroke-width="2.4" stroke-linejoin="round"/>
<rect x="135.6" y="229.4" width="110.0" height="77.0" fill="none" stroke="#000" stroke-width="1.4"/>
<polygon points="135.6,365.0 142.0,369.0 148.0,370.8 148.0,392.2 135.6,392.2" fill="#10c010" />
<polygon points="148.0,370.8 150.0,371.4 164.0,373.0 169.0,373.7 169.0,392.2 148.0,392.2" fill="#007f00" />
<polygon points="169.0,373.7 178.0,375.0 184.0,375.0 196.0,373.0 197.0,373.0 197.0,392.2 169.0,392.2" fill="#004e9a" />
<polygon points="197.0,373.0 211.0,372.8 211.0,392.2 197.0,392.2" fill="#007f00" />
<polygon points="211.0,372.8 224.0,372.6 225.0,372.3 225.0,392.2 211.0,392.2" fill="#004e9a" />
<polygon points="225.0,372.3 234.0,370.0 239.0,369.7 239.0,392.2 225.0,392.2" fill="#007f00" />
<polygon points="239.0,369.7 245.6,369.4 245.6,392.2 239.0,392.2" fill="#10c010" />
<line x1="142.4" y1="315.4" x2="142.4" y2="392.2" stroke="#000" stroke-width="1" stroke-dasharray="2,2"/>
<line x1="163.6" y1="315.4" x2="163.6" y2="392.2" stroke="#000" stroke-width="1" stroke-dasharray="2,2"/>
<line x1="184.6" y1="315.4" x2="184.6" y2="392.2" stroke="#000" stroke-width="1" stroke-dasharray="2,2"/>
<line x1="205.6" y1="315.4" x2="205.6" y2="392.2" stroke="#000" stroke-width="1" stroke-dasharray="2,2"/>
<line x1="226.5" y1="315.4" x2="226.5" y2="392.2" stroke="#000" stroke-width="1" stroke-dasharray="2,2"/>
<line x1="135.6" y1="334.6" x2="245.6" y2="334.6" stroke="#000" stroke-width="1" stroke-dasharray="2,2"/>
<line x1="135.6" y1="354.2" x2="245.6" y2="354.2" stroke="#000" stroke-width="1" stroke-dasharray="2,2"/>
<line x1="135.6" y1="373.2" x2="245.6" y2="373.2" stroke="#000" stroke-width="1" stroke-dasharray="2,2"/>
<polyline points="135.6,365.0 142.0,369.0 150.0,371.4 164.0,373.0 178.0,375.0 184.0,375.0 196.0,373.0 224.0,372.6 234.0,370.0 245.6,369.4" fill="none" stroke="#00008b" stroke-width="2.4" stroke-linejoin="round"/>
<line x1="140" y1="341.5" x2="149" y2="341.5" stroke="#ff0000" stroke-width="1"/>
<line x1="148" y1="347.5" x2="156" y2="347.5" stroke="#ff0000" stroke-width="1"/>
<line x1="156" y1="348.5" x2="162" y2="348.5" stroke="#ff0000" stroke-width="1"/>
<line x1="162" y1="351.5" x2="170" y2="351.5" stroke="#ff0000" stroke-width="1"/>
<line x1="170" y1="355.5" x2="177" y2="355.5" stroke="#ff0000" stroke-width="1"/>
<line x1="176" y1="358.5" x2="185" y2="358.5" stroke="#ff0000" stroke-width="1"/>
<line x1="184" y1="354.5" x2="190" y2="354.5" stroke="#ff0000" stroke-width="1"/>
<line x1="190" y1="351.5" x2="197" y2="351.5" stroke="#ff0000" stroke-width="1"/>
<line x1="197" y1="350.5" x2="211" y2="350.5" stroke="#ff0000" stroke-width="1"/>
<line x1="211" y1="351.5" x2="225" y2="351.5" stroke="#ff0000" stroke-width="1"/>
<line x1="225" y1="347.5" x2="233" y2="347.5" stroke="#ff0000" stroke-width="1"/>
<line x1="232" y1="343.5" x2="240" y2="343.5" stroke="#ff0000" stroke-width="1"/>
<line x1="240" y1="342.5" x2="245.6" y2="342.5" stroke="#ff0000" stroke-width="1"/>
<circle cx="138.6" cy="318" r="1.3" fill="#ff0000"/>
<rect x="135.6" y="315.4" width="110.0" height="76.8" fill="none" stroke="#000" stroke-width="1.4"/>
<line x1="142.4" y1="398.4" x2="142.4" y2="429.7" stroke="#000" stroke-width="1" stroke-dasharray="2,2"/>
<line x1="163.6" y1="398.4" x2="163.6" y2="429.7" stroke="#000" stroke-width="1" stroke-dasharray="2,2"/>
<line x1="184.6" y1="398.4" x2="184.6" y2="429.7" stroke="#000" stroke-width="1" stroke-dasharray="2,2"/>
<line x1="205.6" y1="398.4" x2="205.6" y2="429.7" stroke="#000" stroke-width="1" stroke-dasharray="2,2"/>
<line x1="226.5" y1="398.4" x2="226.5" y2="429.7" stroke="#000" stroke-width="1" stroke-dasharray="2,2"/>
<clipPath id="l5"><rect x="135.6" y="398.4" width="122.0" height="31.30000000000001"/></clipPath><g clip-path="url(#l5)">
<line x1="132.1" y1="406.0" x2="137.0" y2="418.2" stroke="#00008b" stroke-width="1.2"/>
<polygon points="139.1,423.4 134.6,419.2 139.4,417.2" fill="#00008b" />
<line x1="139.0" y1="406.0" x2="143.9" y2="418.2" stroke="#00008b" stroke-width="1.2"/>
<polygon points="146.0,423.4 141.5,419.2 146.3,417.2" fill="#00008b" />
<line x1="145.9" y1="406.0" x2="150.8" y2="418.2" stroke="#00008b" stroke-width="1.2"/>
<polygon points="152.9,423.4 148.4,419.2 153.2,417.2" fill="#00008b" />
<line x1="152.8" y1="406.0" x2="157.7" y2="418.2" stroke="#00008b" stroke-width="1.2"/>
<polygon points="159.8,423.4 155.3,419.2 160.1,417.2" fill="#00008b" />
<line x1="159.7" y1="406.0" x2="164.6" y2="418.2" stroke="#00008b" stroke-width="1.2"/>
<polygon points="166.7,423.4 162.2,419.2 167.0,417.2" fill="#00008b" />
<line x1="168.0" y1="406.0" x2="171.9" y2="418.1" stroke="#00008b" stroke-width="1.2"/>
<polygon points="173.6,423.4 169.4,418.9 174.4,417.3" fill="#00008b" />
<line x1="174.9" y1="406.0" x2="178.8" y2="418.1" stroke="#00008b" stroke-width="1.2"/>
<polygon points="180.5,423.4 176.3,418.9 181.3,417.3" fill="#00008b" />
<line x1="181.8" y1="406.0" x2="185.7" y2="418.1" stroke="#00008b" stroke-width="1.2"/>
<polygon points="187.4,423.4 183.2,418.9 188.2,417.3" fill="#00008b" />
<line x1="188.7" y1="406.0" x2="192.6" y2="418.1" stroke="#00008b" stroke-width="1.2"/>
<polygon points="194.3,423.4 190.1,418.9 195.1,417.3" fill="#00008b" />
<line x1="195.6" y1="406.0" x2="199.5" y2="418.1" stroke="#00008b" stroke-width="1.2"/>
<polygon points="201.2,423.4 197.0,418.9 202.0,417.3" fill="#00008b" />
<line x1="202.5" y1="406.0" x2="206.4" y2="418.1" stroke="#00008b" stroke-width="1.2"/>
<polygon points="208.1,423.4 203.9,418.9 208.9,417.3" fill="#00008b" />
<line x1="209.4" y1="406.0" x2="213.3" y2="418.1" stroke="#00008b" stroke-width="1.2"/>
<polygon points="215.0,423.4 210.8,418.9 215.8,417.3" fill="#00008b" />
<line x1="216.3" y1="406.0" x2="220.2" y2="418.1" stroke="#00008b" stroke-width="1.2"/>
<polygon points="221.9,423.4 217.7,418.9 222.7,417.3" fill="#00008b" />
<line x1="223.2" y1="406.0" x2="227.1" y2="418.1" stroke="#00008b" stroke-width="1.2"/>
<polygon points="228.8,423.4 224.6,418.9 229.6,417.3" fill="#00008b" />
<line x1="230.1" y1="406.0" x2="234.0" y2="418.1" stroke="#00008b" stroke-width="1.2"/>
<polygon points="235.7,423.4 231.5,418.9 236.5,417.3" fill="#00008b" />
<line x1="237.0" y1="406.0" x2="240.9" y2="418.1" stroke="#00008b" stroke-width="1.2"/>
<polygon points="242.6,423.4 238.4,418.9 243.4,417.3" fill="#00008b" />
<line x1="243.9" y1="406.0" x2="247.8" y2="418.1" stroke="#00008b" stroke-width="1.2"/>
<polygon points="249.5,423.4 245.3,418.9 250.3,417.3" fill="#00008b" />
</g>
<rect x="135.6" y="398.4" width="110.0" height="31.3" fill="none" stroke="#000" stroke-width="1.4"/>
<rect x="135.6" y="436.4" width="110.0" height="78.0" fill="#87cefa" />
<rect x="170.0" y="436.4" width="61.6" height="78.0" fill="#1040c0" opacity="0.07"/>
<clipPath id="l6"><rect x="135.6" y="436.4" width="110.0" height="78.0"/></clipPath><g clip-path="url(#l6)">
<circle cx="150.4" cy="500.0" r="2.6" fill="#fff"/>
<circle cx="164.4" cy="499.6" r="2.6" fill="#fff"/>
<circle cx="191.6" cy="500.0" r="2.6" fill="#fff"/>
<circle cx="143.6" cy="505.0" r="2.6" fill="#fff"/>
<circle cx="184.6" cy="509.4" r="2.6" fill="#fff"/>
<circle cx="218.6" cy="509.4" r="2.6" fill="#fff"/>
<circle cx="225.6" cy="509.4" r="2.6" fill="#fff"/>
<circle cx="232.6" cy="509.4" r="2.6" fill="#fff"/>
<circle cx="239.6" cy="509.4" r="2.6" fill="#fff"/>
<circle cx="170.6" cy="492.0" r="2.6" fill="#fff"/>
<circle cx="177.6" cy="492.6" r="2.6" fill="#fff"/>
<circle cx="191.6" cy="492.6" r="2.6" fill="#fff"/>
<circle cx="198.6" cy="492.6" r="2.6" fill="#fff"/>
<circle cx="204.6" cy="492.6" r="2.6" fill="#fff"/>
<circle cx="211.6" cy="492.6" r="2.6" fill="#fff"/>
<circle cx="170.6" cy="489.0" r="2.6" fill="#d2d2d2"/>
<circle cx="177.6" cy="489.0" r="2.6" fill="#d2d2d2"/>
<circle cx="198.6" cy="490.0" r="2.6" fill="#d2d2d2"/>
<circle cx="211.6" cy="489.0" r="2.6" fill="#d2d2d2"/>
<circle cx="218.6" cy="500.0" r="2.6" fill="#d2d2d2"/>
<circle cx="225.6" cy="500.0" r="2.6" fill="#d2d2d2"/>
<circle cx="239.6" cy="500.0" r="2.6" fill="#d2d2d2"/>
<circle cx="137.0" cy="505.0" r="2.6" fill="#d2d2d2"/>
<circle cx="198.6" cy="485.0" r="2.6" fill="#999"/>
<circle cx="211.6" cy="485.0" r="2.6" fill="#999"/>
<circle cx="239.6" cy="494.0" r="2.6" fill="#999"/>
<circle cx="232.6" cy="500.0" r="2.6" fill="#999"/>
<circle cx="245.0" cy="481.6" r="2.6" fill="#999"/>
<circle cx="184.6" cy="504.0" r="2.6" fill="#999"/>
<circle cx="143.6" cy="481.6" r="2.6" fill="#505050"/>
<circle cx="150.4" cy="492.6" r="2.6" fill="#505050"/>
<circle cx="157.4" cy="492.6" r="2.6" fill="#505050"/>
<circle cx="164.4" cy="492.6" r="2.6" fill="#505050"/>
<circle cx="191.6" cy="489.0" r="2.6" fill="#505050"/>
<circle cx="211.6" cy="481.6" r="2.6" fill="#505050"/>
<circle cx="218.6" cy="489.0" r="2.6" fill="#505050"/>
<circle cx="225.6" cy="492.6" r="2.6" fill="#505050"/>
<circle cx="232.6" cy="494.0" r="2.6" fill="#505050"/>
<circle cx="143.6" cy="500.0" r="2.6" fill="#505050"/>
<circle cx="184.6" cy="500.0" r="2.6" fill="#505050"/>
<circle cx="191.6" cy="456.6" r="2.6" fill="#000"/>
<circle cx="198.6" cy="464.4" r="2.6" fill="#000"/>
<circle cx="204.6" cy="467.6" r="2.6" fill="#000"/>
<circle cx="211.6" cy="470.0" r="2.6" fill="#000"/>
<circle cx="218.6" cy="481.6" r="2.6" fill="#000"/>
<circle cx="184.6" cy="489.0" r="2.6" fill="#000"/>
<circle cx="225.6" cy="485.0" r="2.6" fill="#000"/>
<circle cx="232.6" cy="489.0" r="2.6" fill="#000"/>
<circle cx="239.6" cy="481.6" r="2.6" fill="#000"/>
<circle cx="245.0" cy="476.4" r="2.6" fill="#000"/>
<circle cx="135.6" cy="475.6" r="2.6" fill="#b22222"/>
<circle cx="142.6" cy="475.6" r="2.6" fill="#b22222"/>
<circle cx="149.6" cy="458.6" r="2.6" fill="#b22222"/>
<circle cx="156.6" cy="458.6" r="2.6" fill="#b22222"/>
<circle cx="163.6" cy="459.6" r="2.6" fill="#b22222"/>
<circle cx="170.6" cy="451.0" r="2.6" fill="#b22222"/>
<circle cx="177.6" cy="449.4" r="2.6" fill="#b22222"/>
<circle cx="184.6" cy="449.4" r="2.6" fill="#b22222"/>
<circle cx="191.6" cy="449.4" r="2.6" fill="#b22222"/>
<circle cx="198.6" cy="451.0" r="2.6" fill="#b22222"/>
<circle cx="205.6" cy="449.4" r="2.6" fill="#b22222"/>
<circle cx="212.6" cy="449.4" r="2.6" fill="#b22222"/>
<circle cx="219.6" cy="449.4" r="2.6" fill="#b22222"/>
<circle cx="226.6" cy="449.4" r="2.6" fill="#b22222"/>
<circle cx="233.6" cy="449.4" r="2.6" fill="#b22222"/>
<circle cx="240.6" cy="449.4" r="2.6" fill="#b22222"/>
<circle cx="245.6" cy="449.4" r="2.6" fill="#b22222"/>
</g>
<line x1="142.4" y1="436.4" x2="142.4" y2="514.4" stroke="#000" stroke-width="1" stroke-dasharray="2,2"/>
<line x1="163.6" y1="436.4" x2="163.6" y2="514.4" stroke="#000" stroke-width="1" stroke-dasharray="2,2"/>
<line x1="184.6" y1="436.4" x2="184.6" y2="514.4" stroke="#000" stroke-width="1" stroke-dasharray="2,2"/>
<line x1="205.6" y1="436.4" x2="205.6" y2="514.4" stroke="#000" stroke-width="1" stroke-dasharray="2,2"/>
<line x1="226.5" y1="436.4" x2="226.5" y2="514.4" stroke="#000" stroke-width="1" stroke-dasharray="2,2"/>
<line x1="135.6" y1="456.4" x2="245.6" y2="456.4" stroke="#000" stroke-width="1" stroke-dasharray="2,2"/>
<line x1="135.6" y1="475.6" x2="245.6" y2="475.6" stroke="#000" stroke-width="1" stroke-dasharray="2,2"/>
<line x1="135.6" y1="495.0" x2="245.6" y2="495.0" stroke="#000" stroke-width="1" stroke-dasharray="2,2"/>
<g clip-path="url(#l6)">
<polyline points="135.6,471.0 144.0,470.0 150.0,466.6 160.0,464.4 178.0,464.0 186.0,467.0 196.0,470.0 204.0,471.0 216.0,474.0 232.0,474.0 240.0,471.6 245.6,470.0" fill="none" stroke="#ff9800" stroke-width="2" stroke-linejoin="round"/>
</g>
<rect x="135.6" y="436.4" width="110.0" height="78.0" fill="none" stroke="#000" stroke-width="1.4"/>
<clipPath id="l7"><rect x="135.6" y="523.4" width="110.0" height="77.60000000000002"/></clipPath><g clip-path="url(#l7)">
<rect x="135.6" y="523.4" width="110.0" height="77.6" fill="#87cefa" />
<rect x="170.0" y="523.4" width="61.6" height="77.6" fill="#1040c0" opacity="0.07"/>
<polygon points="135.6,574.0 143.6,562.0 150.0,575.0 157.0,583.0 164.4,601.0 168.0,587.0 174.0,573.0 180.0,565.0 188.0,559.0 192.0,548.0 197.0,544.0 204.0,543.0 209.0,529.0 214.0,525.0 218.0,523.4 234.0,523.4 240.0,535.0 245.6,544.0 245.6,601.0 135.6,601.0" fill="#fff" />
<polygon points="135.6,574.0 143.6,562.0 150.0,575.0 157.0,583.0 164.4,587.0 168.0,586.0 178.0,593.0 185.0,569.0 191.0,570.0 194.0,565.0 197.0,531.0 204.0,534.0 210.0,527.0 216.0,524.0 245.6,524.0 245.6,601.0 135.6,601.0" fill="#999" />
<polygon points="135.6,574.0 143.6,562.0 150.0,575.0 157.0,583.0 164.4,587.0 168.0,586.0 178.0,593.0 185.0,569.0 191.0,570.0 197.0,583.0 204.0,596.0 212.0,585.0 218.0,549.0 225.0,535.0 232.0,539.0 240.0,555.0 245.6,565.0 245.6,601.0 135.6,601.0" fill="#585858" />
<polygon points="135.6,589.0 144.0,597.0 150.0,591.0 157.0,594.0 164.4,601.0 135.6,601.0" fill="#303030" />
</g>
<line x1="142.4" y1="523.4" x2="142.4" y2="601.0" stroke="#000" stroke-width="1" stroke-dasharray="2,2"/>
<line x1="163.6" y1="523.4" x2="163.6" y2="601.0" stroke="#000" stroke-width="1" stroke-dasharray="2,2"/>
<line x1="184.6" y1="523.4" x2="184.6" y2="601.0" stroke="#000" stroke-width="1" stroke-dasharray="2,2"/>
<line x1="205.6" y1="523.4" x2="205.6" y2="601.0" stroke="#000" stroke-width="1" stroke-dasharray="2,2"/>
<line x1="226.5" y1="523.4" x2="226.5" y2="601.0" stroke="#000" stroke-width="1" stroke-dasharray="2,2"/>
<line x1="135.6" y1="543.0" x2="245.6" y2="543.0" stroke="#000" stroke-width="1" stroke-dasharray="2,2"/>
<line x1="135.6" y1="562.4" x2="245.6" y2="562.4" stroke="#000" stroke-width="1" stroke-dasharray="2,2"/>
<line x1="135.6" y1="582.0" x2="245.6" y2="582.0" stroke="#000" stroke-width="1" stroke-dasharray="2,2"/>
<polyline points="164.4,601.0 168.0,587.0 174.0,573.0 180.0,565.0 188.0,559.0 192.0,548.0 197.0,544.0 204.0,543.0 209.0,529.0 214.0,525.0 218.0,523.8 234.0,523.8 240.0,535.0 245.6,544.0" fill="none" stroke="#fff" stroke-width="1" />
<polyline points="185.0,601.0 188.0,589.0 192.0,571.0" fill="none" stroke="#e0e0e0" stroke-width="1" />
<polyline points="135.6,589.0 144.0,597.0" fill="none" stroke="#c0c0c0" stroke-width="1" />
<rect x="217.0" y="590.6" width="2.8" height="10.4" fill="#ffb400" />
<rect x="224.0" y="590.6" width="2.8" height="10.4" fill="#ffb400" />
<rect x="231.2" y="590.6" width="2.8" height="10.4" fill="#ffb400" />
<rect x="238.2" y="590.6" width="2.8" height="10.4" fill="#ffb400" />
<line x1="225.4" y1="591" x2="225.4" y2="601.0" stroke="#000" stroke-width="0.9" stroke-dasharray="2,2"/>
<rect x="135.6" y="523.4" width="110.0" height="77.6" fill="none" stroke="#000" stroke-width="1.4"/>
<polyline points="68.5,16.5 132.8,16.5 155.7,45.2" fill="none" stroke="#000" stroke-width="1" />
<polyline points="102.0,44.5 119.3,44.5 150.0,84.0" fill="none" stroke="#a52a2a" stroke-width="1" />
<polyline points="92.4,76.5 115.2,76.5" fill="none" stroke="#ff0000" stroke-width="1.4" />
<polyline points="129.7,76.8 133.0,77.2 167.0,110.5" fill="none" stroke="#ff0000" stroke-width="1" />
<polyline points="70.6,99.5 132.8,99.5 137.0,102.4" fill="none" stroke="#0000ff" stroke-width="1.2" />
<polyline points="94.4,120.5 131.8,120.5 143.2,113.2" fill="none" stroke="#6a5acd" stroke-width="1" />
<polyline points="101.0,137.5 141.0,137.5 146.0,146.4" fill="none" stroke="#ff0000" stroke-width="1" />
<polyline points="105.5,151.5 111.5,151.5" fill="none" stroke="#e04010" stroke-width="1" />
<polyline points="128.0,150.0 146.0,160.5" fill="none" stroke="#e04010" stroke-width="1" />
<polyline points="92.5,166.5 113.0,166.5" fill="none" stroke="#000" stroke-width="1" />
<polyline points="127.5,166.5 130.0,166.5 136.0,171.5" fill="none" stroke="#000" stroke-width="1" />
<polyline points="69.0,179.5 139.4,179.5" fill="none" stroke="#00a000" stroke-width="1" />
<polyline points="78.5,190.5 136.0,190.5" fill="none" stroke="#00a000" stroke-width="1" />
<polyline points="69.0,202.5 112.5,202.5" fill="none" stroke="#0020c0" stroke-width="1" />
<polyline points="127.5,202.5 130.0,202.5 161.0,171.4" fill="none" stroke="#0020c0" stroke-width="1" />
<polyline points="78.5,212.5 132.0,212.5 158.0,184.0" fill="none" stroke="#0020c0" stroke-width="1" />
<polyline points="97.0,224.5 144.0,224.5 147.0,220.0" fill="none" stroke="#ff0000" stroke-width="1" />
<polyline points="51.5,264.5 130.8,264.5 136.0,262.0" fill="none" stroke="#000" stroke-width="1" />
<polyline points="111.5,335.5 118.0,335.5" fill="none" stroke="#ff0000" stroke-width="1" />
<polyline points="129.5,335.0 139.0,318.0" fill="none" stroke="#ff0000" stroke-width="1" />
<polyline points="105.0,348.5 132.0,348.5 144.0,341.4" fill="none" stroke="#ff0000" stroke-width="1" />
<polyline points="92.0,367.5 136.0,367.5" fill="none" stroke="#00008b" stroke-width="1" />
<polyline points="86.0,410.5 141.0,410.5" fill="none" stroke="#00008b" stroke-width="1" />
<polyline points="100.7,429.5 132.8,429.5 184.6,447.6" fill="none" stroke="#a52a2a" stroke-width="1" />
<polyline points="57.0,468.5 132.8,468.5 191.6,456.6" fill="none" stroke="#000" stroke-width="1" />
<polyline points="57.0,480.5 143.4,480.5" fill="none" stroke="#505050" stroke-width="1" />
<polyline points="57.0,490.5 130.8,490.5 143.2,500.0" fill="none" stroke="#999" stroke-width="1" />
<polyline points="57.0,500.5 130.8,500.5 137.0,504.5" fill="none" stroke="#d2d2d2" stroke-width="1" />
<polyline points="55.0,509.5 135.6,509.5" fill="none" stroke="#87cefa" stroke-width="1" />
<polyline points="55.0,511.5 135.6,511.5" fill="none" stroke="#87cefa" stroke-width="1" />
<polyline points="67.5,526.5 129.7,526.5 174.0,465.0" fill="none" stroke="#ff9800" stroke-width="1" />
<polyline points="51.0,556.5 188.0,556.5" fill="none" stroke="#87cefa" stroke-width="1" />
<polyline points="51.0,558.5 188.0,558.5" fill="none" stroke="#87cefa" stroke-width="1" />
<polyline points="49.0,571.5 192.0,571.5" fill="none" stroke="#999" stroke-width="1" />
<polyline points="40.0,582.5 122.5,582.5" fill="none" stroke="#505050" stroke-width="1" />
<polyline points="129.7,582.5 136.0,582.5" fill="none" stroke="#505050" stroke-width="1" />
<polyline points="74.7,594.5 135.0,594.5 146.0,595.5" fill="none" stroke="#303030" stroke-width="1" />
<polyline points="30.0,605.5 217.0,605.5 218.4,601.0" fill="none" stroke="#ffb400" stroke-width="1" />
<polyline points="140.0,623.5 148.4,623.5 156.7,609.2" fill="none" stroke="#000" stroke-width="1" />
<text x="5.8" y="17.6" font-size="10.9" fill="#000" textLength="59" lengthAdjust="spacing" >Czas lokalny</text>
<text x="5.8" y="29.0" font-size="10.9" fill="#000" textLength="55" lengthAdjust="spacing" >(CET/CEST)</text>
<text x="5.8" y="45.7" font-size="10.9" fill="#a52a2a" textLength="93.4" lengthAdjust="spacing" >Temperatura gruntu</text>
<text x="27.5" y="55.6" font-size="10.9" fill="#a52a2a" textLength="39" lengthAdjust="spacing" >max/min</text>
<text x="5.8" y="67.7" font-size="10.9" fill="#000" textLength="62" lengthAdjust="spacing" >Temperatura:</text>
<text x="12.5" y="80.0" font-size="10.9" fill="#ff0000" textLength="77.2" lengthAdjust="spacing" stroke="#ff0000" stroke-width="0.18">punkt środkowy</text>
<text x="27.5" y="89.7" font-size="10.9" fill="#ffdccf" textLength="39" lengthAdjust="spacing" >max/min</text>
<text x="10.0" y="101.7" font-size="10.9" fill="#0000ff" textLength="57.5" lengthAdjust="spacing" stroke="#0000ff" stroke-width="0.18">odczuwana</text>
<text x="27.5" y="111.5" font-size="10.9" fill="#b7e3ff" textLength="39" lengthAdjust="spacing" >max/min</text>
<text x="6.0" y="123.0" font-size="10.9" fill="#6a5acd" textLength="86" lengthAdjust="spacing" >Temp. punktu rosy</text>
<text x="5.8" y="141.2" font-size="10.9" fill="#ff0000" textLength="95" lengthAdjust="spacing" stroke="#ff0000" stroke-width="0.15">Opad powyżej skali</text>
<text x="5.8" y="154.7" font-size="10.9" fill="#e04010" textLength="97.4" lengthAdjust="spacing" >Wilgotność względna</text>
<text x="5.8" y="169.0" font-size="10.9" fill="#000" textLength="85.2" lengthAdjust="spacing" >Wystąpienie burzy</text>
<text x="5.8" y="182.7" font-size="10.9" fill="#00a000" textLength="38" lengthAdjust="spacing" >Deszcz:</text>
<text x="49.2" y="182.7" font-size="10.9" fill="#00a000" textLength="19.3" lengthAdjust="spacing" >max</text>
<text x="49.2" y="193.5" font-size="10.9" fill="#00a000" textLength="29.3" lengthAdjust="spacing" >średni</text>
<text x="5.8" y="205.0" font-size="10.9" fill="#0028c8" textLength="30.5" lengthAdjust="spacing" >Śnieg:</text>
<text x="49.0" y="205.0" font-size="10.9" fill="#0028c8" textLength="19.3" lengthAdjust="spacing" >max</text>
<text x="49.2" y="215.7" font-size="10.9" fill="#0028c8" textLength="29.3" lengthAdjust="spacing" >średni</text>
<text x="5.8" y="228.2" font-size="10.9" fill="#ff0000" textLength="88.6" lengthAdjust="spacing" >Wystąpienie opadu</text>
<text x="5.8" y="240.2" font-size="10.9" fill="#ff0000" textLength="71.5" lengthAdjust="spacing" >konwekcyjnego</text>
<text x="5.0" y="266.8" font-size="10.9" fill="#000" textLength="42.3" lengthAdjust="spacing" >Ciśnienie</text>
<text x="5.0" y="279.9" font-size="10.9" fill="#000" textLength="66" lengthAdjust="spacing" >zredukowane</text>
<text x="5.0" y="292.8" font-size="10.9" fill="#000" textLength="87" lengthAdjust="spacing" >do poziomu morza</text>
<text x="5.0" y="321.8" font-size="10.9" fill="#000" textLength="39.5" lengthAdjust="spacing" >Wiatr na</text>
<text x="49" y="321.8" font-size="11.5" font-family="'Liberation Serif', serif">10</text>
<text x="60.5" y="321.8" font-size="10.9" fill="#000" textLength="11.5" lengthAdjust="spacing" >m:</text>
<text x="10.0" y="337.4" font-size="10.9" fill="#ff0000" textLength="100" lengthAdjust="spacing" >poryw powyżej skali</text>
<text x="10.0" y="351.5" font-size="10.9" fill="#ff0000" textLength="93.8" lengthAdjust="spacing" >max porywy wiatru</text>
<text x="10.0" y="371.2" font-size="10.9" fill="#00008b" textLength="78.2" lengthAdjust="spacing" >prędkość wiatru</text>
<text x="10.0" y="384.0" font-size="10.9" fill="#00008b" textLength="88" lengthAdjust="spacing" >w środku obszaru</text>
<text x="10.0" y="412.2" font-size="10.9" fill="#00008b" textLength="73" lengthAdjust="spacing" >kierunek wiatru</text>
<text x="5.8" y="432.5" font-size="10.9" fill="#b22222" textLength="90.7" lengthAdjust="spacing" >Wierzchołek chmur</text>
<text x="5.8" y="447.7" font-size="10.9" fill="#000" textLength="85.5" lengthAdjust="spacing" >Podstawa chmur*</text>
<text x="5.8" y="458.5" font-size="10.9" fill="#000" textLength="47.5" lengthAdjust="spacing" >o pokryciu</text>
<text x="10.4" y="471.6" font-size="10.9" fill="#000" textLength="44" lengthAdjust="spacing" stroke="#000" stroke-width="0.1">&gt; 7.9 okt.</text>
<text x="10.4" y="482.8" font-size="10.9" fill="#505050" textLength="44" lengthAdjust="spacing" >&gt; 6.5 okt.</text>
<text x="10.4" y="493.4" font-size="10.9" fill="#999" textLength="44" lengthAdjust="spacing" >&gt; 4.5 okt.</text>
<text x="10.4" y="503.1" font-size="10.9" fill="#dcdcd4" textLength="44" lengthAdjust="spacing" >&gt; 2.5 okt.</text>
<rect x="10.8" y="505.2" width="44.2" height="11.4" fill="#87cefa" />
<text x="10.4" y="514.5" font-size="10.9" fill="#fff" textLength="44" lengthAdjust="spacing" >&gt; 0.1 okt.</text>
<text x="5.8" y="529.8" font-size="10.9" fill="#ff8000" textLength="57.2" lengthAdjust="spacing" >Widzialność</text>
<text x="5.8" y="547.0" font-size="10.9" fill="#000" textLength="38.5" lengthAdjust="spacing" >Chmury:</text>
<rect x="10.0" y="551.0" width="40.9" height="10.9" fill="#87cefa" />
<text x="11.4" y="560.5" font-size="10.9" fill="#fff" textLength="38.5" lengthAdjust="spacing" >wysokie</text>
<text x="10.0" y="573.0" font-size="10.9" fill="#999" textLength="34.6" lengthAdjust="spacing" >średnie</text>
<text x="10.0" y="584.8" font-size="10.9" fill="#404040" textLength="25.7" lengthAdjust="spacing" >niskie</text>
<text x="10.0" y="596.4" font-size="10.9" fill="#282828" textLength="60.6" lengthAdjust="spacing" >bardzo niskie</text>
<text x="5.8" y="608.7" font-size="10.9" fill="#ffb400" textLength="20.2" lengthAdjust="spacing" >Mgła</text>
<text x="5.8" y="625.2" font-size="11" fill="#000" textLength="131" lengthAdjust="spacing" >Czas uniwersalny (UTC)</text>
<text x="4.5" y="651.5" font-size="9" fill="#000" textLength="103" lengthAdjust="spacing" >* powyżej poziomu morza</text>
<text x="127.0" y="63.7" font-size="10.67" fill="#000" text-anchor="end">30</text>
<text x="266.3" y="63.7" font-size="10.67" fill="#000" text-anchor="end">30</text>
<text x="127.0" y="81.3" font-size="10.67" fill="#000" text-anchor="end">20</text>
<text x="266.3" y="81.3" font-size="10.67" fill="#000" text-anchor="end">20</text>
<text x="127.0" y="98.5" font-size="10.67" fill="#000" text-anchor="end">10</text>
<text x="266.3" y="98.5" font-size="10.67" fill="#000" text-anchor="end">10</text>
<text x="127.0" y="115.7" font-size="10.67" fill="#000" text-anchor="end">0</text>
<text x="266.3" y="115.7" font-size="10.67" fill="#000" text-anchor="end">0</text>
<text x="127.0" y="133.7" font-size="10.67" fill="#000" text-anchor="end">-10</text>
<text x="266.3" y="133.7" font-size="10.67" fill="#000" text-anchor="end">-10</text>
<text x="127.0" y="155.1" font-size="10.67" fill="#000" text-anchor="end">2.0</text>
<text x="127.0" y="172.1" font-size="10.67" fill="#000" text-anchor="end">1.5</text>
<text x="127.0" y="189.6" font-size="10.67" fill="#000" text-anchor="end">1.0</text>
<text x="127.0" y="207.1" font-size="10.67" fill="#000" text-anchor="end">0.5</text>
<text x="127.0" y="224.1" font-size="10.67" fill="#000" text-anchor="end">0.0</text>
<text x="252.0" y="154.6" font-size="10.67" fill="#e04010" text-anchor="start">96</text>
<text x="252.0" y="172.1" font-size="10.67" fill="#e04010" text-anchor="start">84</text>
<text x="252.0" y="189.6" font-size="10.67" fill="#e04010" text-anchor="start">73</text>
<text x="252.0" y="207.1" font-size="10.67" fill="#e04010" text-anchor="start">61</text>
<text x="252.0" y="223.6" font-size="10.67" fill="#e04010" text-anchor="start">50</text>
<text x="127.0" y="235.4" font-size="10.67" fill="#000" text-anchor="end">1018</text>
<text x="249.5" y="235.4" font-size="10.67" fill="#000" text-anchor="start">1018</text>
<text x="127.0" y="258.1" font-size="10.67" fill="#000" text-anchor="end">1016</text>
<text x="249.5" y="258.1" font-size="10.67" fill="#000" text-anchor="start">1016</text>
<text x="127.0" y="282.3" font-size="10.67" fill="#000" text-anchor="end">1014</text>
<text x="249.5" y="282.3" font-size="10.67" fill="#000" text-anchor="start">1014</text>
<text x="127.0" y="305.1" font-size="10.67" fill="#000" text-anchor="end">1012</text>
<text x="249.5" y="305.1" font-size="10.67" fill="#000" text-anchor="start">1012</text>
<text x="127.0" y="319.7" font-size="10.67" fill="#000" text-anchor="end">20</text>
<text x="127.0" y="338.4" font-size="10.67" fill="#000" text-anchor="end">15</text>
<text x="127.0" y="358.7" font-size="10.67" fill="#000" text-anchor="end">10</text>
<text x="127.0" y="377.4" font-size="10.67" fill="#000" text-anchor="end">5</text>
<text x="127.0" y="396.1" font-size="10.67" fill="#000" text-anchor="end">0</text>
<text x="252.0" y="319.7" font-size="10.67" fill="#000" text-anchor="start">72</text>
<text x="252.0" y="338.4" font-size="10.67" fill="#000" text-anchor="start">54</text>
<text x="252.0" y="358.7" font-size="10.67" fill="#000" text-anchor="start">36</text>
<text x="252.0" y="377.4" font-size="10.67" fill="#000" text-anchor="start">18</text>
<text x="252.0" y="396.1" font-size="10.67" fill="#000" text-anchor="start">0</text>
<text x="127.0" y="440.8" font-size="10.67" fill="#000" text-anchor="end">15.0</text>
<text x="127.0" y="460.5" font-size="10.67" fill="#000" text-anchor="end">7.0</text>
<text x="127.0" y="479.1" font-size="10.67" fill="#000" text-anchor="end">2.0</text>
<text x="127.0" y="499.3" font-size="10.67" fill="#000" text-anchor="end">0.5</text>
<text x="127.0" y="518.6" font-size="10.67" fill="#000" text-anchor="end">0.0</text>
<text x="252.0" y="440.6" font-size="10.67" fill="#ff8000" text-anchor="start">100</text>
<text x="252.0" y="460.5" font-size="10.67" fill="#ff8000" text-anchor="start">20</text>
<text x="252.0" y="479.6" font-size="10.67" fill="#ff8000" text-anchor="start">5</text>
<text x="252.0" y="499.3" font-size="10.67" fill="#ff8000" text-anchor="start">1</text>
<text x="252.0" y="518.6" font-size="10.67" fill="#ff8000" text-anchor="start">0</text>
<text x="127.5" y="527.0" font-size="10.67" fill="#000" text-anchor="end">8</text>
<text x="127.5" y="546.9" font-size="10.67" fill="#000" text-anchor="end">6</text>
<text x="127.5" y="566.4" font-size="10.67" fill="#000" text-anchor="end">4</text>
<text x="127.5" y="586.3" font-size="10.67" fill="#000" text-anchor="end">2</text>
<text x="127.5" y="604.8" font-size="10.67" fill="#000" text-anchor="end">0</text>
<text x="252.0" y="527.0" font-size="10.67" fill="#ff8000" text-anchor="start">1</text>
<text x="252.0" y="547.1" font-size="10.67" fill="#ff8000" text-anchor="start">0.75</text>
<text x="252.0" y="566.4" font-size="10.67" fill="#ff8000" text-anchor="start">0.5</text>
<text x="252.0" y="586.3" font-size="10.67" fill="#ff8000" text-anchor="start">0.25</text>
<text x="252.0" y="605.1" font-size="10.67" fill="#ff8000" text-anchor="start">0</text>
<text x="163.8" y="51.6" font-size="12" fill="#000" text-anchor="middle" >20</text>
<text x="205.6" y="51.6" font-size="12" fill="#000" text-anchor="middle" >02</text>
<text x="244.4" y="51.6" font-size="12" fill="#000" text-anchor="middle" >08</text>
<text x="164.0" y="615.0" font-size="12.4" fill="#000" text-anchor="middle" >18</text>
<text x="204.0" y="615.0" font-size="12.4" fill="#000" text-anchor="middle" >00</text>
<text x="244.7" y="615.0" font-size="12.4" fill="#000" text-anchor="middle" >06</text>
<text x="355.6" y="13.0" font-size="12.3" fill="#00008b" text-anchor="middle" textLength="146.2" lengthAdjust="spacing">wschód słońca: 07:45 CET</text>
<text x="355.0" y="26.2" font-size="12.3" fill="#00008b" text-anchor="middle" textLength="142.5" lengthAdjust="spacing">zachód słońca: 15:10 CET</text>
<text x="550.3" y="13.0" font-size="12.3" fill="#00008b" text-anchor="middle" textLength="128" lengthAdjust="spacing">21°43'31"E, 53°59'46"N</text>
<text x="551.0" y="26.2" font-size="12.3" fill="#00008b" text-anchor="middle" textLength="81" lengthAdjust="spacing">(x=261,&#160; y=355)</text>
<text x="738.2" y="13.0" font-size="12.3" fill="#00008b" text-anchor="middle" textLength="158" lengthAdjust="spacing">wysokość (min, środek, max)</text>
<text x="738.5" y="26.2" font-size="12.3" fill="#00008b" text-anchor="middle" textLength="96" lengthAdjust="spacing">121 - 141 - 157 m</text>
<text x="300.5" y="652.7" font-size="12.3" fill="#00008b" textLength="108" lengthAdjust="spacing">meteo@icm.edu.pl</text>
<text x="553.2" y="652.7" font-size="12.3" fill="#00008b" textLength="252" lengthAdjust="spacing">© 2007-2025 ICM, Uniwersytet Warszawski</text>
<text x="462.4" y="42.5" font-size="13.33" fill="#000" text-anchor="middle" >pon, 15.12</text>
<text x="630.7" y="42.5" font-size="13.33" fill="#000" text-anchor="middle" >wto, 16.12</text>
<text x="461.9" y="629.6" font-size="13.33" fill="#000" text-anchor="middle" >15.12</text>
<text x="631.0" y="629.6" font-size="13.33" fill="#000" text-anchor="middle" >16.12</text>
<text x="356.0" y="54.5" font-size="13.33" fill="#000" text-anchor="middle" >22</text>
<text x="398.2" y="54.5" font-size="13.33" fill="#000" text-anchor="middle" >04</text>
<text x="440.4" y="54.5" font-size="13.33" fill="#000" text-anchor="middle" >10</text>
<text x="482.6" y="54.5" font-size="13.33" fill="#000" text-anchor="middle" >16</text>
<text x="524.8" y="54.5" font-size="13.33" fill="#000" text-anchor="middle" >22</text>
<text x="567.0" y="54.5" font-size="13.33" fill="#000" text-anchor="middle" >04</text>
<text x="609.2" y="54.5" font-size="13.33" fill="#000" text-anchor="middle" >10</text>
<text x="651.4" y="54.5" font-size="13.33" fill="#000" text-anchor="middle" >16</text>
<text x="693.6" y="54.5" font-size="13.33" fill="#000" text-anchor="middle" >22</text>
<text x="735.8" y="54.5" font-size="13.33" fill="#000" text-anchor="middle" >04</text>
<text x="355.8" y="616.5" font-size="13.33" fill="#000" text-anchor="middle" >21</text>
<text x="398.0" y="616.5" font-size="13.33" fill="#000" text-anchor="middle" >03</text>
<text x="440.2" y="616.5" font-size="13.33" fill="#000" text-anchor="middle" >09</text>
<text x="482.4" y="616.5" font-size="13.33" fill="#000" text-anchor="middle" >15</text>
<text x="524.6" y="616.5" font-size="13.33" fill="#000" text-anchor="middle" >21</text>
<text x="566.8" y="616.5" font-size="13.33" fill="#000" text-anchor="middle" >03</text>
<text x="609.0" y="616.5" font-size="13.33" fill="#000" text-anchor="middle" >09</text>
<text x="651.2" y="616.5" font-size="13.33" fill="#000" text-anchor="middle" >15</text>
<text x="693.4" y="616.5" font-size="13.33" fill="#000" text-anchor="middle" >21</text>
<text x="735.6" y="616.5" font-size="13.33" fill="#000" text-anchor="middle" >03</text>
<text x="306.8" y="54.5" font-size="13.33" fill="#000" text-anchor="start" textLength="24.4">CET</text>
<text x="768.8" y="54.5" font-size="13.33" fill="#000" text-anchor="start" textLength="25">CET</text>
<text x="306.5" y="616.5" font-size="13.33" fill="#000" text-anchor="start" textLength="24">UTC</text>
<text x="769.2" y="616.5" font-size="13.33" fill="#000" text-anchor="start" textLength="24.2">UTC</text>
<text x="337.3" y="95.4" font-size="10.67" fill="#000" text-anchor="end">0</text>
<text x="337.3" y="129.9" font-size="10.67" fill="#000" text-anchor="end">-5</text>
<text x="337.3" y="150.8" font-size="10.67" fill="#000" text-anchor="end">5</text>
<text x="337.3" y="165.6" font-size="10.67" fill="#000" text-anchor="end">4</text>
<text x="337.3" y="180.8" font-size="10.67" fill="#000" text-anchor="end">3</text>
<text x="337.3" y="195.6" font-size="10.67" fill="#000" text-anchor="end">2</text>
<text x="337.3" y="211.1" font-size="10.67" fill="#000" text-anchor="end">1</text>
<text x="337.3" y="225.6" font-size="10.67" fill="#000" text-anchor="end">0</text>
<text x="337.3" y="234.9" font-size="10.67" fill="#000" text-anchor="end">1025</text>
<text x="337.3" y="255.9" font-size="10.67" fill="#000" text-anchor="end">1020</text>
<text x="337.3" y="275.9" font-size="10.67" fill="#000" text-anchor="end">1015</text>
<text x="337.3" y="296.1" font-size="10.67" fill="#000" text-anchor="end">1010</text>
<text x="337.3" y="323.6" font-size="10.67" fill="#000" text-anchor="end">15</text>
<text x="337.3" y="348.6" font-size="10.67" fill="#000" text-anchor="end">10</text>
<text x="337.3" y="374.3" font-size="10.67" fill="#000" text-anchor="end">5</text>
<text x="337.3" y="399.5" font-size="10.67" fill="#000" text-anchor="end">0</text>
<text x="337.3" y="442.9" font-size="10.67" fill="#000" text-anchor="end">15.0</text>
<text x="337.3" y="462.1" font-size="10.67" fill="#000" text-anchor="end">7.0</text>
<text x="337.3" y="481.1" font-size="10.67" fill="#000" text-anchor="end">2.0</text>
<text x="337.3" y="500.7" font-size="10.67" fill="#000" text-anchor="end">0.5</text>
<text x="337.3" y="520.4" font-size="10.67" fill="#000" text-anchor="end">0.0</text>
<text x="337.3" y="530.1" font-size="10.67" fill="#000" text-anchor="end">8</text>
<text x="337.3" y="548.9" font-size="10.67" fill="#000" text-anchor="end">6</text>
<text x="337.3" y="568.9" font-size="10.67" fill="#000" text-anchor="end">4</text>
<text x="337.3" y="588.3" font-size="10.67" fill="#000" text-anchor="end">2</text>
<text x="337.3" y="608.6" font-size="10.67" fill="#000" text-anchor="end">0</text>
<text x="770.5" y="95.6" font-size="10.67" fill="#000" text-anchor="middle">0</text>
<text x="770.5" y="129.6" font-size="10.67" fill="#000" text-anchor="middle">-5</text>
<text x="770.7" y="150.8" font-size="10.67" fill="#e2501e" text-anchor="middle">100</text>
<text x="770.7" y="165.9" font-size="10.67" fill="#e2501e" text-anchor="middle">95</text>
<text x="770.7" y="181.1" font-size="10.67" fill="#e2501e" text-anchor="middle">90</text>
<text x="770.7" y="195.6" font-size="10.67" fill="#e2501e" text-anchor="middle">85</text>
<text x="770.7" y="210.8" font-size="10.67" fill="#e2501e" text-anchor="middle">80</text>
<text x="770.7" y="225.9" font-size="10.67" fill="#e2501e" text-anchor="middle">75</text>
<text x="770.7" y="235.6" font-size="10.67" fill="#000" text-anchor="middle">769</text>
<text x="770.7" y="255.4" font-size="10.67" fill="#000" text-anchor="middle">765</text>
<text x="770.7" y="276.1" font-size="10.67" fill="#000" text-anchor="middle">761</text>
<text x="770.7" y="296.1" font-size="10.67" fill="#000" text-anchor="middle">758</text>
<text x="767.6" y="323.1" font-size="10.67" fill="#000" text-anchor="middle">54</text>
<text x="767.6" y="347.9" font-size="10.67" fill="#000" text-anchor="middle">36</text>
<text x="767.6" y="373.3" font-size="10.67" fill="#000" text-anchor="middle">18</text>
<text x="767.6" y="398.9" font-size="10.67" fill="#000" text-anchor="middle">0</text>
<text x="762.0" y="442.1" font-size="10.67" fill="#ff8000" text-anchor="start">100</text>
<text x="762.0" y="461.7" font-size="10.67" fill="#ff8000" text-anchor="start">20</text>
<text x="762.0" y="480.8" font-size="10.67" fill="#ff8000" text-anchor="start">5</text>
<text x="762.0" y="501.1" font-size="10.67" fill="#ff8000" text-anchor="start">1</text>
<text x="762.0" y="519.9" font-size="10.67" fill="#ff8000" text-anchor="start">0</text>
<text x="762.0" y="529.9" font-size="10.67" fill="#ff8000" text-anchor="start">1</text>
<text x="762.0" y="549.6" font-size="10.67" fill="#ff8000" text-anchor="start">0.75</text>
<text x="762.0" y="569.1" font-size="10.67" fill="#ff8000" text-anchor="start">0.5</text>
<text x="762.0" y="588.1" font-size="10.67" fill="#ff8000" text-anchor="start">0.25</text>
<text x="762.0" y="608.1" font-size="10.67" fill="#ff8000" text-anchor="start">0</text>
<text transform="translate(292.2,96.8) rotate(-90)" font-size="12.3" fill="#00008b" text-anchor="middle">temperatura</text>
<text transform="translate(305.4,96.8) rotate(-90)" font-size="12.3" fill="#00008b" text-anchor="middle">(°C)</text>
<text transform="translate(292.2,184.5) rotate(-90)" font-size="12.3" fill="#00008b" text-anchor="middle">opad</text>
<text transform="translate(306.0,185.0) rotate(-90)" font-size="12.3" fill="#00008b" text-anchor="middle">(mm/h, kg/m²/h)</text>
<text transform="translate(292.2,272.4) rotate(-90)" font-size="12.3" fill="#00008b" text-anchor="middle">ciśnienie</text>
<text transform="translate(305.6,272.4) rotate(-90)" font-size="12.3" fill="#00008b" text-anchor="middle">(hPa)</text>
<text transform="translate(292.2,360.6) rotate(-90)" font-size="12.3" fill="#00008b" text-anchor="middle">wiatr</text>
<text transform="translate(306.0,360.6) rotate(-90)" font-size="12.3" fill="#00008b" text-anchor="middle">(m/s)</text>
<text transform="translate(292.2,474.5) rotate(-90)" font-size="12.3" fill="#00008b" text-anchor="middle">pion. rozciągł. chm.</text>
<text transform="translate(306.0,474.5) rotate(-90)" font-size="12.3" fill="#00008b" text-anchor="middle">(km)</text>
<text transform="translate(292.2,572.7) rotate(-90)" font-size="12.3" fill="#00008b" text-anchor="middle">zachmurzenie</text>
<text transform="translate(306.0,562.5) rotate(-90)" font-size="12.3" fill="#00008b" text-anchor="middle">(oktanty)</text>
<text transform="translate(802.0,96.0) rotate(-90)" font-size="12.3" fill="#00008b" text-anchor="middle">(°C)</text>
<text transform="translate(814.3,96.8) rotate(-90)" font-size="12.3" fill="#00008b" text-anchor="middle">temperatura</text>
<text transform="translate(802.0,185.0) rotate(-90)" font-size="12.3" fill="#00008b" text-anchor="middle">(%)</text>
<text transform="translate(814.3,185.3) rotate(-90)" font-size="12.3" fill="#00008b" text-anchor="middle">wilgotność wzgl.</text>
<text transform="translate(802.0,273.3) rotate(-90)" font-size="12.3" fill="#00008b" text-anchor="middle">(mm Hg)</text>
<text transform="translate(814.3,273.0) rotate(-90)" font-size="12.3" fill="#00008b" text-anchor="middle">ciśnienie</text>
<text transform="translate(802.0,361.0) rotate(-90)" font-size="12.3" fill="#00008b" text-anchor="middle">(km/h)</text>
<text transform="translate(814.3,361.0) rotate(-90)" font-size="12.3" fill="#00008b" text-anchor="middle">wiatr</text>
<text transform="translate(802.0,474.0) rotate(-90)" font-size="12.3" fill="#00008b" text-anchor="middle">(km)</text>
<text transform="translate(814.3,475.0) rotate(-90)" font-size="12.3" fill="#00008b" text-anchor="middle">widzialność</text>
<text transform="translate(802.0,563.6) rotate(-90)" font-size="12.3" fill="#00008b" text-anchor="middle">(frakcja)</text>
<text transform="translate(814.3,562.0) rotate(-90)" font-size="12.3" fill="#00008b" text-anchor="middle">mgła</text>
<text x="298.6" y="411.7" font-size="12" fill="#00008b" text-anchor="middle" >N</text>
<text x="289.0" y="419.7" font-size="12" fill="#00008b" text-anchor="middle" >W</text>
<text x="304.6" y="419.7" font-size="12" fill="#00008b" text-anchor="middle" >E</text>
<text x="298.0" y="427.7" font-size="12" fill="#00008b" text-anchor="middle" >S</text>
<text x="807.6" y="410.9" font-size="12" fill="#00008b" text-anchor="middle" >N</text>
<text x="798.0" y="418.9" font-size="12" fill="#00008b" text-anchor="middle" >W</text>
<text x="813.6" y="418.9" font-size="12" fill="#00008b" text-anchor="middle" >E</text>
<text x="807.0" y="426.9" font-size="12" fill="#00008b" text-anchor="middle" >S</text>
</svg>
</body></html>
